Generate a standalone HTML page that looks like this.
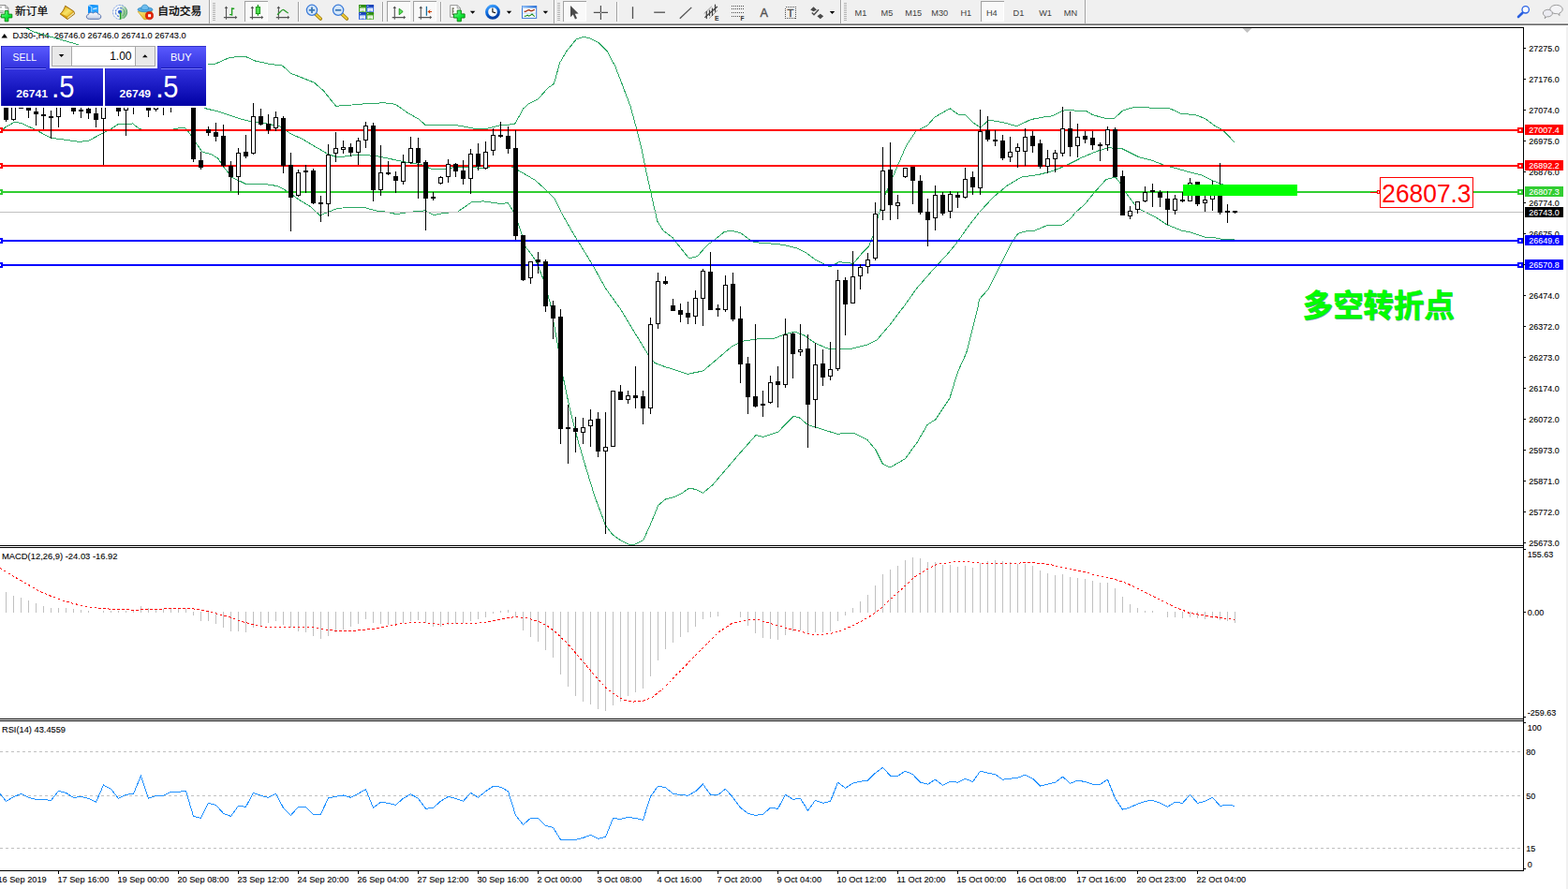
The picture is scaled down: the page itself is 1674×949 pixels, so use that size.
<!DOCTYPE html>
<html><head><meta charset="utf-8"><title>DJ30 H4</title>
<style>
html,body{margin:0;padding:0;background:#fff;}
body{width:1674px;height:949px;overflow:hidden;position:relative;font-family:"Liberation Sans",sans-serif;}
svg{position:absolute;left:0;top:0;display:block;}
svg text{font-family:"Liberation Sans","Noto Sans CJK SC",sans-serif;}
</style></head><body>
<svg width="1674" height="949" viewBox="0 0 1674 949">
<defs>
<linearGradient id="pg" x1="0" y1="49" x2="0" y2="113" gradientUnits="userSpaceOnUse"><stop offset="0" stop-color="#5a5aff"/><stop offset="0.45" stop-color="#2c2cd8"/><stop offset="1" stop-color="#0000a4"/></linearGradient>
<clipPath id="cm"><rect x="0" y="30" width="1626" height="552"/></clipPath>
<clipPath id="cmacd"><rect x="0" y="585" width="1626" height="182"/></clipPath>
<clipPath id="crsi"><rect x="0" y="770" width="1626" height="159"/></clipPath>
</defs>
<rect x="0" y="0" width="1674" height="949" fill="#fff"/>
<g clip-path="url(#cm)">
<polyline points="0,29 28,29.7 36,34 80,46.7 110,56 150,66 200,70 222.6,68.1 230.1,68.1 245.2,61.4 261.5,60.1 272.8,65.1 286.6,68.1 301.6,70.1 310.4,78.2 335.5,88.2 345.5,97 358.6,113.3 375.6,112 395.7,110.3 410.7,109.8 422,111.3 435.8,120.8 447.1,127.1 454.6,133.9 465.9,133.4 486,133.4 508.6,137.6 518.6,137.6 533.7,133.9 542.4,133.4 550,131.9 558.8,115.8 565.1,110.3 573.9,106.3 585.2,93.7 591.4,89.5 597.7,66.9 605.2,54.3 615.3,41.8 622.8,39.3 630.3,41 639.1,45.6 647.9,54.3 656.7,70.6 665.4,93.2 673,113.3 679.2,135.9 685.5,161 690.5,186 695.5,208.6 701.8,236.2 708.1,246.3 718.1,253.8 722.9,260 735.5,275.8 744.3,273.8 755.5,261.3 760.8,257.6 773.3,247.5 780.8,246.3 790.9,248.8 800.9,256.3 805.9,258.8 818.3,259.5 835.8,261.3 850.9,265 860.9,270.1 870.9,277.6 886,285.1 896,279.6 911.1,281.4 920,270.6 927.5,263.1 932.5,250.6 937.6,230.5 945.1,207.9 952.6,190.4 960.1,172.8 967.7,155.2 977.7,140.2 990.2,133.9 997.8,125.1 1014.1,115.8 1022.9,122.1 1030.4,122.6 1037.9,130.1 1046.7,136.4 1055.5,128.1 1070.5,130.6 1085.6,134.7 1100.6,127.6 1113.2,125.1 1123.2,123.9 1133.6,118.7 1138.2,117.4 1146.6,117.4 1147.9,118.5 1159.7,118.5 1166.4,122.5 1173.2,124.5 1180.9,126.4 1189.7,126.4 1198.5,118.1 1211,114.3 1228.6,115.1 1247.4,115.1 1261.2,121.4 1276.2,122.6 1286.3,126.4 1296.3,133.9 1306.3,139.7 1317.6,151.5" fill="none" stroke="#2aa763" stroke-width="1" shape-rendering="crispEdges"/>
<polyline points="217.6,115.3 235.1,119.6 257.7,127.1 270.2,130.4 285.3,132.1 300.4,135.4 310.4,142.9 322.9,148.4 335.5,156 350.5,164.7 360.6,168 375.6,166 390.7,165.5 405.7,167.2 420.8,170.5 435.8,173.5 450.9,176 460.9,180.5 471,181 486,178.5 501,178 516.1,179.8 531.2,176 542.4,176 546.2,178 556.2,183.5 571.3,192.3 583.8,203.6 591.4,211.1 600.2,228.7 612.5,250 632.6,282.6 646.4,307.7 662.7,330.3 677.8,355.4 691.6,377.9 699.1,387.5 710.4,391.7 722.9,395.5 734.2,399.3 750.5,396 763.1,385.5 780.6,370.4 793.2,364.1 810.7,361.6 825.8,361.6 838.3,356.6 848.4,354.1 858.4,357.9 870.9,366.7 886,372.9 908.6,372.4 926.1,367.9 936.2,362.9 951.2,345.3 966.3,325.3 978.8,307.7 996.4,287.6 1011.4,271.3 1020.4,260.6 1032.9,243 1045.4,226.7 1060.5,210.4 1075.5,197.9 1090.6,189.1 1108.2,186.6 1123.2,182.8 1138.3,176.6 1155.8,167.8 1170.9,161.5 1183.4,157.7 1198.5,159 1216,167.8 1228.6,170.8 1243.6,176.6 1253.7,179.1 1271.2,184.1 1283.8,187.3 1293.8,192.4 1302.5,196 1318,201" fill="none" stroke="#2aa763" stroke-width="1" shape-rendering="crispEdges"/>
<polyline points="0,142 5,136.3 15.2,130.4 22,131.2 37,138 54,147.2 67.5,149 84.3,151.4 94.4,150.3 108,143 118,138 126.5,132.4 141.7,132 148.4,137.1 155,139.2 185.5,139.2 185.6,137.4 197.3,136.3 202.4,142.2 209,152.3 215.9,162 226,165 232.7,169 239.5,179.3 247.9,189.4 262.2,196.3 282.8,196.6 296.6,198.6 307.9,204.9 317.9,212.4 330.5,219.9 341.7,230 350.5,226.2 360.6,222.4 375.6,221.2 388.2,221.2 400.7,224.9 413.2,226.2 423.3,228.7 438.3,226.2 453.4,224.9 463.4,229.5 473.5,227.5 488.5,226.2 503.6,215.7 516.1,214.9 533.7,217.4 542.4,216.7 550,228.7 553.7,240 561.3,263.8 567,271 572.8,279.9 580,298 587.3,323.4 594.6,363.3 600,397 607.5,432.6 616.3,467.7 625.1,497.8 635.1,530.5 646.4,560.6 653.9,570.6 662.7,576.9 671.5,581.1 677.8,581.1 686.6,576.9 694.1,560.6 702.9,539.2 710.4,533 720.4,530.5 727.9,526.7 735.5,521.2 743,522.4 750.5,526.2 760.6,517.9 775.6,500.4 790.7,482.8 807,464.5 814.5,466.5 830.8,461 847.1,444.4 853.4,445.9 862.2,453.4 876,457.7 893.5,463.2 911.1,462.2 926.1,469.7 934.9,480.3 942.4,495.3 950,499.1 966.3,489.8 978.8,472.8 990.1,453.4 998.9,447.7 1013.9,425.1 1022.6,396.7 1031.7,376.8 1037.9,352.3 1044.2,327.1 1045.4,319.6 1055.5,308.3 1068,283.2 1080.6,258.1 1086.8,249.3 1095.6,246.8 1103.1,246.8 1118.2,240.5 1134.5,240 1143.3,233 1148.3,226.7 1158.3,217.9 1168.4,205.4 1180.9,191.6 1190.9,189.1 1196,195.4 1203.5,207.9 1211,217.9 1218.5,224.2 1233.6,231.7 1246.1,240 1261.2,246 1271.2,248.1 1286.3,253.1 1293.8,253.1 1306.3,255.6 1317.6,255.6" fill="none" stroke="#2aa763" stroke-width="1" shape-rendering="crispEdges"/>
<g shape-rendering="crispEdges">
<rect x="0" y="138" width="1626" height="2" fill="#ff0000"/>
<rect x="0" y="176" width="1626" height="2" fill="#ff0000"/>
<rect x="0" y="204" width="1626" height="2" fill="#32cd32"/>
<rect x="0" y="226" width="1626" height="1" fill="#c0c0c0"/>
<rect x="0" y="256" width="1626" height="2" fill="#0000ff"/>
<rect x="0" y="282" width="1626" height="2" fill="#0000ff"/>
<rect x="-3" y="136" width="6" height="6" fill="#ff0000"/><rect x="-1" y="138" width="2" height="2" fill="#fff"/>
<rect x="1620" y="136" width="6" height="6" fill="#ff0000"/><rect x="1622" y="138" width="2" height="2" fill="#fff"/>
<rect x="-3" y="174" width="6" height="6" fill="#ff0000"/><rect x="-1" y="176" width="2" height="2" fill="#fff"/>
<rect x="1620" y="174" width="6" height="6" fill="#ff0000"/><rect x="1622" y="176" width="2" height="2" fill="#fff"/>
<rect x="-3" y="202" width="6" height="6" fill="#32cd32"/><rect x="-1" y="204" width="2" height="2" fill="#fff"/>
<rect x="1620" y="202" width="6" height="6" fill="#32cd32"/><rect x="1622" y="204" width="2" height="2" fill="#fff"/>
<rect x="-3" y="254" width="6" height="6" fill="#0000ff"/><rect x="-1" y="256" width="2" height="2" fill="#fff"/>
<rect x="1620" y="254" width="6" height="6" fill="#0000ff"/><rect x="1622" y="256" width="2" height="2" fill="#fff"/>
<rect x="-3" y="280" width="6" height="6" fill="#0000ff"/><rect x="-1" y="282" width="2" height="2" fill="#fff"/>
<rect x="1620" y="280" width="6" height="6" fill="#0000ff"/><rect x="1622" y="282" width="2" height="2" fill="#fff"/>
<rect x="6" y="100" width="1" height="30" fill="#000"/>
<rect x="4" y="100" width="5" height="28" fill="#000"/>
<rect x="14" y="100" width="1" height="29" fill="#000"/>
<rect x="12" y="100" width="5" height="28" fill="#000"/>
<rect x="13" y="101" width="3" height="26" fill="#fff"/>
<rect x="22" y="100" width="1" height="16" fill="#000"/>
<rect x="20" y="100" width="5" height="16" fill="#000"/>
<rect x="21" y="101" width="3" height="14" fill="#fff"/>
<rect x="30" y="100" width="1" height="26" fill="#000"/>
<rect x="28" y="100" width="5" height="18" fill="#000"/>
<rect x="38" y="100" width="1" height="34" fill="#000"/>
<rect x="36" y="119" width="5" height="3" fill="#000"/>
<rect x="46" y="100" width="1" height="38" fill="#000"/>
<rect x="44" y="122" width="5" height="2" fill="#000"/>
<rect x="54" y="118" width="1" height="30" fill="#000"/>
<rect x="52" y="124" width="5" height="2" fill="#000"/>
<rect x="62" y="100" width="1" height="36" fill="#000"/>
<rect x="60" y="100" width="5" height="25" fill="#000"/>
<rect x="61" y="101" width="3" height="23" fill="#fff"/>
<rect x="78" y="100" width="1" height="22" fill="#000"/>
<rect x="76" y="100" width="5" height="19" fill="#000"/>
<rect x="86" y="100" width="1" height="26" fill="#000"/>
<rect x="84" y="117" width="5" height="2" fill="#000"/>
<rect x="94" y="100" width="1" height="27" fill="#000"/>
<rect x="92" y="116" width="5" height="5" fill="#000"/>
<rect x="102" y="100" width="1" height="36" fill="#000"/>
<rect x="100" y="121" width="5" height="7" fill="#000"/>
<rect x="110" y="100" width="1" height="76" fill="#000"/>
<rect x="108" y="100" width="5" height="27" fill="#000"/>
<rect x="109" y="101" width="3" height="25" fill="#fff"/>
<rect x="126" y="100" width="1" height="24" fill="#000"/>
<rect x="124" y="100" width="5" height="19" fill="#000"/>
<rect x="134" y="100" width="1" height="45" fill="#000"/>
<rect x="132" y="100" width="5" height="18" fill="#000"/>
<rect x="133" y="101" width="3" height="16" fill="#fff"/>
<rect x="142" y="100" width="1" height="22" fill="#000"/>
<rect x="140" y="99" width="5" height="2" fill="#000"/>
<rect x="158" y="100" width="1" height="25" fill="#000"/>
<rect x="156" y="100" width="5" height="18" fill="#000"/>
<rect x="166" y="100" width="1" height="19" fill="#000"/>
<rect x="164" y="100" width="5" height="17" fill="#000"/>
<rect x="165" y="101" width="3" height="15" fill="#fff"/>
<rect x="174" y="100" width="1" height="23" fill="#000"/>
<rect x="172" y="99" width="5" height="2" fill="#000"/>
<rect x="182" y="100" width="1" height="20" fill="#000"/>
<rect x="180" y="99" width="5" height="2" fill="#000"/>
<rect x="206" y="100" width="1" height="73" fill="#000"/>
<rect x="204" y="100" width="5" height="70" fill="#000"/>
<rect x="214" y="162" width="1" height="19" fill="#000"/>
<rect x="212" y="171" width="5" height="8" fill="#000"/>
<rect x="222" y="135" width="1" height="10" fill="#000"/>
<rect x="220" y="138" width="5" height="4" fill="#000"/>
<rect x="230" y="131" width="1" height="20" fill="#000"/>
<rect x="228" y="141" width="5" height="5" fill="#000"/>
<rect x="238" y="133" width="1" height="45" fill="#000"/>
<rect x="236" y="145" width="5" height="32" fill="#000"/>
<rect x="246" y="172" width="1" height="32" fill="#000"/>
<rect x="244" y="177" width="5" height="12" fill="#000"/>
<rect x="254" y="158" width="1" height="50" fill="#000"/>
<rect x="252" y="163" width="5" height="26" fill="#000"/>
<rect x="253" y="164" width="3" height="24" fill="#fff"/>
<rect x="262" y="144" width="1" height="25" fill="#000"/>
<rect x="260" y="162" width="5" height="5" fill="#000"/>
<rect x="270" y="110" width="1" height="55" fill="#000"/>
<rect x="268" y="124" width="5" height="40" fill="#000"/>
<rect x="269" y="125" width="3" height="38" fill="#fff"/>
<rect x="278" y="116" width="1" height="18" fill="#000"/>
<rect x="276" y="124" width="5" height="9" fill="#000"/>
<rect x="286" y="122" width="1" height="21" fill="#000"/>
<rect x="284" y="132" width="5" height="7" fill="#000"/>
<rect x="294" y="119" width="1" height="21" fill="#000"/>
<rect x="292" y="125" width="5" height="12" fill="#000"/>
<rect x="293" y="126" width="3" height="10" fill="#fff"/>
<rect x="302" y="124" width="1" height="61" fill="#000"/>
<rect x="300" y="126" width="5" height="51" fill="#000"/>
<rect x="310" y="163" width="1" height="84" fill="#000"/>
<rect x="308" y="176" width="5" height="35" fill="#000"/>
<rect x="318" y="181" width="1" height="29" fill="#000"/>
<rect x="316" y="184" width="5" height="25" fill="#000"/>
<rect x="317" y="185" width="3" height="23" fill="#fff"/>
<rect x="326" y="176" width="1" height="30" fill="#000"/>
<rect x="324" y="182" width="5" height="2" fill="#000"/>
<rect x="334" y="180" width="1" height="38" fill="#000"/>
<rect x="332" y="182" width="5" height="35" fill="#000"/>
<rect x="342" y="209" width="1" height="28" fill="#000"/>
<rect x="340" y="216" width="5" height="2" fill="#000"/>
<rect x="350" y="154" width="1" height="77" fill="#000"/>
<rect x="348" y="165" width="5" height="53" fill="#000"/>
<rect x="349" y="166" width="3" height="51" fill="#fff"/>
<rect x="358" y="141" width="1" height="32" fill="#000"/>
<rect x="356" y="158" width="5" height="6" fill="#000"/>
<rect x="357" y="159" width="3" height="4" fill="#fff"/>
<rect x="366" y="150" width="1" height="14" fill="#000"/>
<rect x="364" y="157" width="5" height="3" fill="#000"/>
<rect x="365" y="158" width="3" height="1" fill="#fff"/>
<rect x="374" y="153" width="1" height="14" fill="#000"/>
<rect x="372" y="157" width="5" height="6" fill="#000"/>
<rect x="382" y="147" width="1" height="29" fill="#000"/>
<rect x="380" y="150" width="5" height="13" fill="#000"/>
<rect x="381" y="151" width="3" height="11" fill="#fff"/>
<rect x="390" y="130" width="1" height="28" fill="#000"/>
<rect x="388" y="134" width="5" height="16" fill="#000"/>
<rect x="389" y="135" width="3" height="14" fill="#fff"/>
<rect x="398" y="131" width="1" height="84" fill="#000"/>
<rect x="396" y="134" width="5" height="69" fill="#000"/>
<rect x="406" y="155" width="1" height="54" fill="#000"/>
<rect x="404" y="184" width="5" height="19" fill="#000"/>
<rect x="405" y="185" width="3" height="17" fill="#fff"/>
<rect x="414" y="172" width="1" height="15" fill="#000"/>
<rect x="412" y="184" width="5" height="2" fill="#000"/>
<rect x="422" y="183" width="1" height="23" fill="#000"/>
<rect x="420" y="188" width="5" height="5" fill="#000"/>
<rect x="430" y="165" width="1" height="32" fill="#000"/>
<rect x="428" y="173" width="5" height="21" fill="#000"/>
<rect x="429" y="174" width="3" height="19" fill="#fff"/>
<rect x="438" y="146" width="1" height="29" fill="#000"/>
<rect x="436" y="158" width="5" height="16" fill="#000"/>
<rect x="437" y="159" width="3" height="14" fill="#fff"/>
<rect x="446" y="147" width="1" height="65" fill="#000"/>
<rect x="444" y="158" width="5" height="16" fill="#000"/>
<rect x="454" y="171" width="1" height="75" fill="#000"/>
<rect x="452" y="173" width="5" height="39" fill="#000"/>
<rect x="462" y="205" width="1" height="9" fill="#000"/>
<rect x="460" y="210" width="5" height="2" fill="#000"/>
<rect x="470" y="188" width="1" height="9" fill="#000"/>
<rect x="468" y="189" width="5" height="7" fill="#000"/>
<rect x="469" y="190" width="3" height="5" fill="#fff"/>
<rect x="478" y="170" width="1" height="25" fill="#000"/>
<rect x="476" y="175" width="5" height="14" fill="#000"/>
<rect x="477" y="176" width="3" height="12" fill="#fff"/>
<rect x="486" y="174" width="1" height="15" fill="#000"/>
<rect x="484" y="175" width="5" height="8" fill="#000"/>
<rect x="494" y="171" width="1" height="26" fill="#000"/>
<rect x="492" y="182" width="5" height="9" fill="#000"/>
<rect x="502" y="159" width="1" height="48" fill="#000"/>
<rect x="500" y="164" width="5" height="27" fill="#000"/>
<rect x="501" y="165" width="3" height="25" fill="#fff"/>
<rect x="510" y="153" width="1" height="29" fill="#000"/>
<rect x="508" y="164" width="5" height="14" fill="#000"/>
<rect x="518" y="151" width="1" height="30" fill="#000"/>
<rect x="516" y="162" width="5" height="18" fill="#000"/>
<rect x="517" y="163" width="3" height="16" fill="#fff"/>
<rect x="526" y="137" width="1" height="29" fill="#000"/>
<rect x="524" y="144" width="5" height="17" fill="#000"/>
<rect x="525" y="145" width="3" height="15" fill="#fff"/>
<rect x="534" y="130" width="1" height="17" fill="#000"/>
<rect x="532" y="144" width="5" height="2" fill="#000"/>
<rect x="542" y="135" width="1" height="29" fill="#000"/>
<rect x="540" y="145" width="5" height="14" fill="#000"/>
<rect x="550" y="139" width="1" height="117" fill="#000"/>
<rect x="548" y="158" width="5" height="94" fill="#000"/>
<rect x="558" y="251" width="1" height="49" fill="#000"/>
<rect x="556" y="251" width="5" height="48" fill="#000"/>
<rect x="566" y="279" width="1" height="24" fill="#000"/>
<rect x="564" y="279" width="5" height="18" fill="#000"/>
<rect x="565" y="280" width="3" height="16" fill="#fff"/>
<rect x="574" y="269" width="1" height="23" fill="#000"/>
<rect x="572" y="277" width="5" height="3" fill="#000"/>
<rect x="582" y="277" width="1" height="56" fill="#000"/>
<rect x="580" y="279" width="5" height="48" fill="#000"/>
<rect x="590" y="321" width="1" height="41" fill="#000"/>
<rect x="588" y="326" width="5" height="14" fill="#000"/>
<rect x="598" y="330" width="1" height="144" fill="#000"/>
<rect x="596" y="338" width="5" height="120" fill="#000"/>
<rect x="606" y="432" width="1" height="63" fill="#000"/>
<rect x="604" y="456" width="5" height="2" fill="#000"/>
<rect x="614" y="445" width="1" height="38" fill="#000"/>
<rect x="612" y="457" width="5" height="4" fill="#000"/>
<rect x="622" y="446" width="1" height="28" fill="#000"/>
<rect x="620" y="456" width="5" height="6" fill="#000"/>
<rect x="621" y="457" width="3" height="4" fill="#fff"/>
<rect x="630" y="437" width="1" height="40" fill="#000"/>
<rect x="628" y="448" width="5" height="7" fill="#000"/>
<rect x="629" y="449" width="3" height="5" fill="#fff"/>
<rect x="638" y="440" width="1" height="48" fill="#000"/>
<rect x="636" y="447" width="5" height="35" fill="#000"/>
<rect x="646" y="440" width="1" height="130" fill="#000"/>
<rect x="644" y="477" width="5" height="5" fill="#000"/>
<rect x="645" y="478" width="3" height="3" fill="#fff"/>
<rect x="654" y="417" width="1" height="60" fill="#000"/>
<rect x="652" y="417" width="5" height="60" fill="#000"/>
<rect x="653" y="418" width="3" height="58" fill="#fff"/>
<rect x="662" y="411" width="1" height="16" fill="#000"/>
<rect x="660" y="418" width="5" height="9" fill="#000"/>
<rect x="670" y="417" width="1" height="14" fill="#000"/>
<rect x="668" y="422" width="5" height="5" fill="#000"/>
<rect x="669" y="423" width="3" height="3" fill="#fff"/>
<rect x="678" y="391" width="1" height="45" fill="#000"/>
<rect x="676" y="422" width="5" height="3" fill="#000"/>
<rect x="686" y="417" width="1" height="36" fill="#000"/>
<rect x="684" y="423" width="5" height="13" fill="#000"/>
<rect x="694" y="339" width="1" height="103" fill="#000"/>
<rect x="692" y="346" width="5" height="90" fill="#000"/>
<rect x="693" y="347" width="3" height="88" fill="#fff"/>
<rect x="702" y="291" width="1" height="60" fill="#000"/>
<rect x="700" y="300" width="5" height="46" fill="#000"/>
<rect x="701" y="301" width="3" height="44" fill="#fff"/>
<rect x="710" y="295" width="1" height="9" fill="#000"/>
<rect x="708" y="300" width="5" height="3" fill="#000"/>
<rect x="718" y="319" width="1" height="13" fill="#000"/>
<rect x="716" y="326" width="5" height="6" fill="#000"/>
<rect x="726" y="324" width="1" height="20" fill="#000"/>
<rect x="724" y="331" width="5" height="5" fill="#000"/>
<rect x="734" y="322" width="1" height="24" fill="#000"/>
<rect x="732" y="334" width="5" height="5" fill="#000"/>
<rect x="742" y="310" width="1" height="36" fill="#000"/>
<rect x="740" y="318" width="5" height="20" fill="#000"/>
<rect x="741" y="319" width="3" height="18" fill="#fff"/>
<rect x="750" y="287" width="1" height="61" fill="#000"/>
<rect x="748" y="289" width="5" height="30" fill="#000"/>
<rect x="749" y="290" width="3" height="28" fill="#fff"/>
<rect x="758" y="269" width="1" height="62" fill="#000"/>
<rect x="756" y="290" width="5" height="41" fill="#000"/>
<rect x="766" y="325" width="1" height="13" fill="#000"/>
<rect x="764" y="329" width="5" height="2" fill="#000"/>
<rect x="774" y="294" width="1" height="39" fill="#000"/>
<rect x="772" y="304" width="5" height="27" fill="#000"/>
<rect x="773" y="305" width="3" height="25" fill="#fff"/>
<rect x="782" y="291" width="1" height="52" fill="#000"/>
<rect x="780" y="303" width="5" height="38" fill="#000"/>
<rect x="790" y="327" width="1" height="82" fill="#000"/>
<rect x="788" y="340" width="5" height="49" fill="#000"/>
<rect x="798" y="381" width="1" height="61" fill="#000"/>
<rect x="796" y="388" width="5" height="36" fill="#000"/>
<rect x="806" y="346" width="1" height="89" fill="#000"/>
<rect x="804" y="423" width="5" height="11" fill="#000"/>
<rect x="814" y="417" width="1" height="28" fill="#000"/>
<rect x="812" y="431" width="5" height="2" fill="#000"/>
<rect x="822" y="401" width="1" height="30" fill="#000"/>
<rect x="820" y="408" width="5" height="22" fill="#000"/>
<rect x="821" y="409" width="3" height="20" fill="#fff"/>
<rect x="830" y="391" width="1" height="44" fill="#000"/>
<rect x="828" y="407" width="5" height="4" fill="#000"/>
<rect x="838" y="340" width="1" height="74" fill="#000"/>
<rect x="836" y="357" width="5" height="54" fill="#000"/>
<rect x="837" y="358" width="3" height="52" fill="#fff"/>
<rect x="846" y="355" width="1" height="49" fill="#000"/>
<rect x="844" y="356" width="5" height="22" fill="#000"/>
<rect x="854" y="346" width="1" height="34" fill="#000"/>
<rect x="852" y="373" width="5" height="3" fill="#000"/>
<rect x="853" y="374" width="3" height="1" fill="#fff"/>
<rect x="862" y="357" width="1" height="121" fill="#000"/>
<rect x="860" y="372" width="5" height="60" fill="#000"/>
<rect x="870" y="366" width="1" height="91" fill="#000"/>
<rect x="868" y="389" width="5" height="38" fill="#000"/>
<rect x="869" y="390" width="3" height="36" fill="#fff"/>
<rect x="878" y="373" width="1" height="39" fill="#000"/>
<rect x="876" y="388" width="5" height="15" fill="#000"/>
<rect x="886" y="365" width="1" height="41" fill="#000"/>
<rect x="884" y="394" width="5" height="8" fill="#000"/>
<rect x="885" y="395" width="3" height="6" fill="#fff"/>
<rect x="894" y="288" width="1" height="108" fill="#000"/>
<rect x="892" y="299" width="5" height="95" fill="#000"/>
<rect x="893" y="300" width="3" height="93" fill="#fff"/>
<rect x="902" y="296" width="1" height="62" fill="#000"/>
<rect x="900" y="299" width="5" height="26" fill="#000"/>
<rect x="910" y="268" width="1" height="56" fill="#000"/>
<rect x="908" y="295" width="5" height="29" fill="#000"/>
<rect x="909" y="296" width="3" height="27" fill="#fff"/>
<rect x="918" y="282" width="1" height="27" fill="#000"/>
<rect x="916" y="285" width="5" height="10" fill="#000"/>
<rect x="917" y="286" width="3" height="8" fill="#fff"/>
<rect x="926" y="270" width="1" height="22" fill="#000"/>
<rect x="924" y="277" width="5" height="8" fill="#000"/>
<rect x="925" y="278" width="3" height="6" fill="#fff"/>
<rect x="934" y="216" width="1" height="62" fill="#000"/>
<rect x="932" y="228" width="5" height="48" fill="#000"/>
<rect x="933" y="229" width="3" height="46" fill="#fff"/>
<rect x="942" y="157" width="1" height="78" fill="#000"/>
<rect x="940" y="182" width="5" height="43" fill="#000"/>
<rect x="941" y="183" width="3" height="41" fill="#fff"/>
<rect x="950" y="152" width="1" height="83" fill="#000"/>
<rect x="948" y="181" width="5" height="38" fill="#000"/>
<rect x="958" y="208" width="1" height="26" fill="#000"/>
<rect x="956" y="216" width="5" height="4" fill="#000"/>
<rect x="957" y="217" width="3" height="2" fill="#fff"/>
<rect x="966" y="179" width="1" height="11" fill="#000"/>
<rect x="964" y="179" width="5" height="10" fill="#000"/>
<rect x="965" y="180" width="3" height="8" fill="#fff"/>
<rect x="974" y="178" width="1" height="40" fill="#000"/>
<rect x="972" y="178" width="5" height="15" fill="#000"/>
<rect x="982" y="187" width="1" height="42" fill="#000"/>
<rect x="980" y="193" width="5" height="34" fill="#000"/>
<rect x="990" y="212" width="1" height="51" fill="#000"/>
<rect x="988" y="226" width="5" height="9" fill="#000"/>
<rect x="998" y="198" width="1" height="48" fill="#000"/>
<rect x="996" y="208" width="5" height="25" fill="#000"/>
<rect x="997" y="209" width="3" height="23" fill="#fff"/>
<rect x="1006" y="205" width="1" height="25" fill="#000"/>
<rect x="1004" y="208" width="5" height="20" fill="#000"/>
<rect x="1014" y="204" width="1" height="29" fill="#000"/>
<rect x="1012" y="207" width="5" height="19" fill="#000"/>
<rect x="1013" y="208" width="3" height="17" fill="#fff"/>
<rect x="1022" y="205" width="1" height="17" fill="#000"/>
<rect x="1020" y="208" width="5" height="3" fill="#000"/>
<rect x="1030" y="179" width="1" height="33" fill="#000"/>
<rect x="1028" y="191" width="5" height="20" fill="#000"/>
<rect x="1029" y="192" width="3" height="18" fill="#fff"/>
<rect x="1038" y="183" width="1" height="25" fill="#000"/>
<rect x="1036" y="189" width="5" height="11" fill="#000"/>
<rect x="1046" y="117" width="1" height="91" fill="#000"/>
<rect x="1044" y="140" width="5" height="61" fill="#000"/>
<rect x="1045" y="141" width="3" height="59" fill="#fff"/>
<rect x="1054" y="124" width="1" height="27" fill="#000"/>
<rect x="1052" y="139" width="5" height="10" fill="#000"/>
<rect x="1062" y="139" width="1" height="17" fill="#000"/>
<rect x="1060" y="149" width="5" height="2" fill="#000"/>
<rect x="1070" y="144" width="1" height="27" fill="#000"/>
<rect x="1068" y="150" width="5" height="19" fill="#000"/>
<rect x="1078" y="146" width="1" height="27" fill="#000"/>
<rect x="1076" y="162" width="5" height="6" fill="#000"/>
<rect x="1077" y="163" width="3" height="4" fill="#fff"/>
<rect x="1086" y="153" width="1" height="26" fill="#000"/>
<rect x="1084" y="157" width="5" height="5" fill="#000"/>
<rect x="1085" y="158" width="3" height="3" fill="#fff"/>
<rect x="1094" y="137" width="1" height="40" fill="#000"/>
<rect x="1092" y="146" width="5" height="16" fill="#000"/>
<rect x="1093" y="147" width="3" height="14" fill="#fff"/>
<rect x="1102" y="140" width="1" height="23" fill="#000"/>
<rect x="1100" y="145" width="5" height="11" fill="#000"/>
<rect x="1110" y="149" width="1" height="31" fill="#000"/>
<rect x="1108" y="153" width="5" height="25" fill="#000"/>
<rect x="1118" y="160" width="1" height="25" fill="#000"/>
<rect x="1116" y="169" width="5" height="9" fill="#000"/>
<rect x="1117" y="170" width="3" height="7" fill="#fff"/>
<rect x="1126" y="160" width="1" height="24" fill="#000"/>
<rect x="1124" y="163" width="5" height="7" fill="#000"/>
<rect x="1125" y="164" width="3" height="5" fill="#fff"/>
<rect x="1134" y="114" width="1" height="53" fill="#000"/>
<rect x="1132" y="137" width="5" height="27" fill="#000"/>
<rect x="1133" y="138" width="3" height="25" fill="#fff"/>
<rect x="1142" y="119" width="1" height="48" fill="#000"/>
<rect x="1140" y="137" width="5" height="20" fill="#000"/>
<rect x="1150" y="132" width="1" height="36" fill="#000"/>
<rect x="1148" y="146" width="5" height="10" fill="#000"/>
<rect x="1149" y="147" width="3" height="8" fill="#fff"/>
<rect x="1158" y="140" width="1" height="13" fill="#000"/>
<rect x="1156" y="145" width="5" height="4" fill="#000"/>
<rect x="1166" y="140" width="1" height="20" fill="#000"/>
<rect x="1164" y="147" width="5" height="8" fill="#000"/>
<rect x="1174" y="152" width="1" height="20" fill="#000"/>
<rect x="1172" y="154" width="5" height="2" fill="#000"/>
<rect x="1182" y="135" width="1" height="26" fill="#000"/>
<rect x="1180" y="138" width="5" height="17" fill="#000"/>
<rect x="1181" y="139" width="3" height="15" fill="#fff"/>
<rect x="1190" y="136" width="1" height="53" fill="#000"/>
<rect x="1188" y="138" width="5" height="51" fill="#000"/>
<rect x="1198" y="182" width="1" height="48" fill="#000"/>
<rect x="1196" y="188" width="5" height="42" fill="#000"/>
<rect x="1206" y="220" width="1" height="14" fill="#000"/>
<rect x="1204" y="225" width="5" height="6" fill="#000"/>
<rect x="1205" y="226" width="3" height="4" fill="#fff"/>
<rect x="1214" y="215" width="1" height="13" fill="#000"/>
<rect x="1212" y="215" width="5" height="9" fill="#000"/>
<rect x="1213" y="216" width="3" height="7" fill="#fff"/>
<rect x="1222" y="199" width="1" height="17" fill="#000"/>
<rect x="1220" y="205" width="5" height="10" fill="#000"/>
<rect x="1221" y="206" width="3" height="8" fill="#fff"/>
<rect x="1230" y="196" width="1" height="25" fill="#000"/>
<rect x="1228" y="203" width="5" height="2" fill="#000"/>
<rect x="1238" y="203" width="1" height="18" fill="#000"/>
<rect x="1236" y="205" width="5" height="6" fill="#000"/>
<rect x="1246" y="204" width="1" height="36" fill="#000"/>
<rect x="1244" y="212" width="5" height="12" fill="#000"/>
<rect x="1254" y="208" width="1" height="21" fill="#000"/>
<rect x="1252" y="212" width="5" height="13" fill="#000"/>
<rect x="1253" y="213" width="3" height="11" fill="#fff"/>
<rect x="1262" y="205" width="1" height="11" fill="#000"/>
<rect x="1260" y="213" width="5" height="2" fill="#000"/>
<rect x="1270" y="190" width="1" height="25" fill="#000"/>
<rect x="1268" y="195" width="5" height="20" fill="#000"/>
<rect x="1269" y="196" width="3" height="18" fill="#fff"/>
<rect x="1278" y="194" width="1" height="26" fill="#000"/>
<rect x="1276" y="194" width="5" height="24" fill="#000"/>
<rect x="1286" y="203" width="1" height="23" fill="#000"/>
<rect x="1284" y="213" width="5" height="4" fill="#000"/>
<rect x="1285" y="214" width="3" height="2" fill="#fff"/>
<rect x="1294" y="193" width="1" height="32" fill="#000"/>
<rect x="1292" y="202" width="5" height="11" fill="#000"/>
<rect x="1293" y="203" width="3" height="9" fill="#fff"/>
<rect x="1302" y="174" width="1" height="55" fill="#000"/>
<rect x="1300" y="200" width="5" height="27" fill="#000"/>
<rect x="1310" y="218" width="1" height="20" fill="#000"/>
<rect x="1308" y="225" width="5" height="2" fill="#000"/>
<rect x="1318" y="225" width="1" height="3" fill="#000"/>
<rect x="1316" y="225" width="5" height="2" fill="#000"/>
<rect x="1263" y="197" width="122" height="12" fill="#00ff00"/>
<rect x="1463" y="205" width="8" height="1" fill="#ff0000"/>
<rect x="1470" y="203" width="3" height="4" fill="#ff0000"/><rect x="1471" y="204" width="1" height="2" fill="#fff"/>
<rect x="1473" y="189" width="100" height="33" fill="#ff0000"/><rect x="1474" y="190" width="98" height="31" fill="#fff"/>
</g>
<text x="1475.3" y="216" font-size="27.6" fill="#ff0000" text-anchor="start" font-weight="normal" textLength="95.2" lengthAdjust="spacingAndGlyphs">26807.3</text>
<text x="1391.5" y="338.9" font-size="32.7" fill="#002060" opacity="0.5" font-weight="bold" textLength="162" lengthAdjust="spacingAndGlyphs" style="font-family:'Liberation Sans','Noto Sans CJK SC',sans-serif">多空转折点</text>
<text x="1390.8" y="338.4" font-size="32.7" fill="#00ff00" stroke="#00f000" stroke-width="0.7" stroke-linejoin="round" font-weight="bold" textLength="162" lengthAdjust="spacingAndGlyphs" style="font-family:'Liberation Sans','Noto Sans CJK SC',sans-serif">多空转折点</text>
</g>
<g shape-rendering="crispEdges">
<rect x="0" y="48" width="222" height="67" fill="#fff"/>
</g>
<path d="M1.5 40.5 L8 40.5 L4.75 36 Z" fill="#000"/>
<text x="13.6" y="40.6" font-size="9.5" fill="#000" text-anchor="start" font-weight="normal" textLength="185" lengthAdjust="spacingAndGlyphs" stroke="#000" stroke-width="0.1">DJ30-,H4&#160;&#160;26746.0 26746.0 26741.0 26743.0</text>
<polyline points="28,29.7 36,34 80,46.7" fill="none" stroke="#2aa763" stroke-width="1" shape-rendering="crispEdges"/>
<g shape-rendering="crispEdges">
<rect x="1" y="49" width="52" height="25" fill="url(#pg)"/>
<rect x="1" y="73" width="109" height="40" fill="url(#pg)"/>
<rect x="168" y="49" width="52" height="25" fill="url(#pg)"/>
<rect x="112" y="73" width="108" height="40" fill="url(#pg)"/>
<rect x="1" y="49" width="52" height="1" fill="#3030c8"/><rect x="1" y="49" width="1" height="64" fill="#2020b8"/>
<rect x="168" y="49" width="52" height="1" fill="#3030c8"/><rect x="112" y="73" width="1" height="40" fill="#2020b8"/>
<rect x="5" y="72" width="44" height="1" fill="#1c1cb4"/><rect x="5" y="73" width="44" height="1" fill="#7878ff"/>
<rect x="172" y="72" width="44" height="1" fill="#1c1cb4"/><rect x="172" y="73" width="44" height="1" fill="#7878ff"/>
<rect x="55" y="49" width="111" height="22" fill="#a8a8a8"/>
<rect x="56" y="50" width="20" height="20" fill="#e9e9e9"/>
<rect x="77" y="50" width="67" height="20" fill="#fff"/>
<rect x="145" y="50" width="20" height="20" fill="#e9e9e9"/>
</g>
<path d="M62.8 58 L68.4 58 L65.6 61 Z" fill="#000"/>
<path d="M152 61.2 L157.6 61.2 L154.8 58.2 Z" fill="#000"/>
<text x="140.5" y="64.3" font-size="12" fill="#000" text-anchor="end" font-weight="normal">1.00</text>
<text x="26.4" y="65" font-size="11.6" fill="#fff" text-anchor="middle" font-weight="normal" textLength="25.6" lengthAdjust="spacingAndGlyphs">SELL</text>
<text x="193.3" y="65" font-size="11.6" fill="#fff" text-anchor="middle" font-weight="normal" textLength="22.6" lengthAdjust="spacingAndGlyphs">BUY</text>
<text x="17.3" y="104" font-size="11.6" fill="#fff" text-anchor="start" font-weight="bold" textLength="33.6" lengthAdjust="spacingAndGlyphs">26741</text>
<text x="127.5" y="104" font-size="11.6" fill="#fff" text-anchor="start" font-weight="bold" textLength="33.6" lengthAdjust="spacingAndGlyphs">26749</text>
<text x="54.8" y="104.2" font-size="32" fill="#fff" text-anchor="start" font-weight="normal">.</text>
<text x="63.2" y="104.3" font-size="33.2" fill="#fff" text-anchor="start" font-weight="normal" textLength="16.2" lengthAdjust="spacingAndGlyphs">5</text>
<text x="165.9" y="104.2" font-size="32" fill="#fff" text-anchor="start" font-weight="normal">.</text>
<text x="174.3" y="104.3" font-size="33.2" fill="#fff" text-anchor="start" font-weight="normal" textLength="16.2" lengthAdjust="spacingAndGlyphs">5</text>
<g shape-rendering="crispEdges">
<rect x="0" y="29" width="1627" height="1" fill="#000"/>
<rect x="1626" y="29" width="1" height="901" fill="#000"/>
<rect x="0" y="582" width="1627" height="1" fill="#000"/>
<rect x="0" y="584" width="1627" height="1" fill="#000"/>
<rect x="0" y="767" width="1627" height="1" fill="#000"/>
<rect x="0" y="769" width="1627" height="1" fill="#000"/>
<rect x="0" y="929" width="1627" height="1" fill="#000"/>
<rect x="1672" y="27" width="2" height="922" fill="#f0f0f0"/>
</g>
<path d="M1326.5 30 L1336.5 30 L1331.5 35 Z" fill="#c0c0c0"/>
<g shape-rendering="crispEdges">
<rect x="1627" y="51" width="2" height="1" fill="#000"/>
<rect x="1627" y="84" width="2" height="1" fill="#000"/>
<rect x="1627" y="117" width="2" height="1" fill="#000"/>
<rect x="1627" y="150" width="2" height="1" fill="#000"/>
<rect x="1627" y="183" width="2" height="1" fill="#000"/>
<rect x="1627" y="216" width="2" height="1" fill="#000"/>
<rect x="1627" y="249" width="2" height="1" fill="#000"/>
<rect x="1627" y="282" width="2" height="1" fill="#000"/>
<rect x="1627" y="315" width="2" height="1" fill="#000"/>
<rect x="1627" y="348" width="2" height="1" fill="#000"/>
<rect x="1627" y="381" width="2" height="1" fill="#000"/>
<rect x="1627" y="414" width="2" height="1" fill="#000"/>
<rect x="1627" y="447" width="2" height="1" fill="#000"/>
<rect x="1627" y="480" width="2" height="1" fill="#000"/>
<rect x="1627" y="513" width="2" height="1" fill="#000"/>
<rect x="1627" y="546" width="2" height="1" fill="#000"/>
<rect x="1627" y="579" width="2" height="1" fill="#000"/>
</g>
<text x="1632.3" y="54.7" font-size="9.5" fill="#000" text-anchor="start" font-weight="normal" textLength="32.4" lengthAdjust="spacingAndGlyphs" stroke="#000" stroke-width="0.1">27275.0</text>
<text x="1632.3" y="87.7" font-size="9.5" fill="#000" text-anchor="start" font-weight="normal" textLength="32.4" lengthAdjust="spacingAndGlyphs" stroke="#000" stroke-width="0.1">27176.0</text>
<text x="1632.3" y="120.7" font-size="9.5" fill="#000" text-anchor="start" font-weight="normal" textLength="32.4" lengthAdjust="spacingAndGlyphs" stroke="#000" stroke-width="0.1">27074.0</text>
<text x="1632.3" y="153.7" font-size="9.5" fill="#000" text-anchor="start" font-weight="normal" textLength="32.4" lengthAdjust="spacingAndGlyphs" stroke="#000" stroke-width="0.1">26975.0</text>
<text x="1632.3" y="186.7" font-size="9.5" fill="#000" text-anchor="start" font-weight="normal" textLength="32.4" lengthAdjust="spacingAndGlyphs" stroke="#000" stroke-width="0.1">26876.0</text>
<text x="1632.3" y="219.7" font-size="9.5" fill="#000" text-anchor="start" font-weight="normal" textLength="32.4" lengthAdjust="spacingAndGlyphs" stroke="#000" stroke-width="0.1">26774.0</text>
<text x="1632.3" y="252.7" font-size="9.5" fill="#000" text-anchor="start" font-weight="normal" textLength="32.4" lengthAdjust="spacingAndGlyphs" stroke="#000" stroke-width="0.1">26675.0</text>
<text x="1632.3" y="285.7" font-size="9.5" fill="#000" text-anchor="start" font-weight="normal" textLength="32.4" lengthAdjust="spacingAndGlyphs" stroke="#000" stroke-width="0.1">26573.0</text>
<text x="1632.3" y="318.7" font-size="9.5" fill="#000" text-anchor="start" font-weight="normal" textLength="32.4" lengthAdjust="spacingAndGlyphs" stroke="#000" stroke-width="0.1">26474.0</text>
<text x="1632.3" y="351.7" font-size="9.5" fill="#000" text-anchor="start" font-weight="normal" textLength="32.4" lengthAdjust="spacingAndGlyphs" stroke="#000" stroke-width="0.1">26372.0</text>
<text x="1632.3" y="384.7" font-size="9.5" fill="#000" text-anchor="start" font-weight="normal" textLength="32.4" lengthAdjust="spacingAndGlyphs" stroke="#000" stroke-width="0.1">26273.0</text>
<text x="1632.3" y="417.7" font-size="9.5" fill="#000" text-anchor="start" font-weight="normal" textLength="32.4" lengthAdjust="spacingAndGlyphs" stroke="#000" stroke-width="0.1">26174.0</text>
<text x="1632.3" y="450.7" font-size="9.5" fill="#000" text-anchor="start" font-weight="normal" textLength="32.4" lengthAdjust="spacingAndGlyphs" stroke="#000" stroke-width="0.1">26072.0</text>
<text x="1632.3" y="483.7" font-size="9.5" fill="#000" text-anchor="start" font-weight="normal" textLength="32.4" lengthAdjust="spacingAndGlyphs" stroke="#000" stroke-width="0.1">25973.0</text>
<text x="1632.3" y="516.7" font-size="9.5" fill="#000" text-anchor="start" font-weight="normal" textLength="32.4" lengthAdjust="spacingAndGlyphs" stroke="#000" stroke-width="0.1">25871.0</text>
<text x="1632.3" y="549.7" font-size="9.5" fill="#000" text-anchor="start" font-weight="normal" textLength="32.4" lengthAdjust="spacingAndGlyphs" stroke="#000" stroke-width="0.1">25772.0</text>
<text x="1632.3" y="582.7" font-size="9.5" fill="#000" text-anchor="start" font-weight="normal" textLength="32.4" lengthAdjust="spacingAndGlyphs" stroke="#000" stroke-width="0.1">25673.0</text>
<g shape-rendering="crispEdges">
<rect x="1628" y="133" width="41" height="11" fill="#ff0000"/>
<rect x="1628" y="171" width="41" height="11" fill="#ff0000"/>
<rect x="1628" y="199" width="41" height="11" fill="#32cd32"/>
<rect x="1628" y="221" width="41" height="11" fill="#000000"/>
<rect x="1628" y="251" width="41" height="11" fill="#0000ff"/>
<rect x="1628" y="277" width="41" height="11" fill="#0000ff"/>
</g>
<text x="1632.3" y="142.2" font-size="9.5" fill="#fff" text-anchor="start" font-weight="normal" textLength="32.4" lengthAdjust="spacingAndGlyphs" stroke="#fff" stroke-width="0.1">27007.4</text>
<text x="1632.3" y="180.2" font-size="9.5" fill="#fff" text-anchor="start" font-weight="normal" textLength="32.4" lengthAdjust="spacingAndGlyphs" stroke="#fff" stroke-width="0.1">26892.2</text>
<text x="1632.3" y="208.2" font-size="9.5" fill="#fff" text-anchor="start" font-weight="normal" textLength="32.4" lengthAdjust="spacingAndGlyphs" stroke="#fff" stroke-width="0.1">26807.3</text>
<text x="1632.3" y="230.2" font-size="9.5" fill="#fff" text-anchor="start" font-weight="normal" textLength="32.4" lengthAdjust="spacingAndGlyphs" stroke="#fff" stroke-width="0.1">26743.0</text>
<text x="1632.3" y="260.2" font-size="9.5" fill="#fff" text-anchor="start" font-weight="normal" textLength="32.4" lengthAdjust="spacingAndGlyphs" stroke="#fff" stroke-width="0.1">26649.6</text>
<text x="1632.3" y="286.2" font-size="9.5" fill="#fff" text-anchor="start" font-weight="normal" textLength="32.4" lengthAdjust="spacingAndGlyphs" stroke="#fff" stroke-width="0.1">26570.8</text>
<g clip-path="url(#cmacd)">
<g shape-rendering="crispEdges">
<rect x="6" y="632" width="1" height="22" fill="#c0c0c0"/>
<rect x="14" y="636" width="1" height="18" fill="#c0c0c0"/>
<rect x="22" y="638" width="1" height="16" fill="#c0c0c0"/>
<rect x="30" y="641" width="1" height="13" fill="#c0c0c0"/>
<rect x="38" y="644" width="1" height="10" fill="#c0c0c0"/>
<rect x="46" y="647" width="1" height="7" fill="#c0c0c0"/>
<rect x="54" y="649" width="1" height="5" fill="#c0c0c0"/>
<rect x="62" y="649" width="1" height="5" fill="#c0c0c0"/>
<rect x="70" y="649" width="1" height="5" fill="#c0c0c0"/>
<rect x="78" y="650" width="1" height="4" fill="#c0c0c0"/>
<rect x="86" y="651" width="1" height="3" fill="#c0c0c0"/>
<rect x="94" y="652" width="1" height="2" fill="#c0c0c0"/>
<rect x="110" y="652" width="1" height="2" fill="#c0c0c0"/>
<rect x="118" y="652" width="1" height="2" fill="#c0c0c0"/>
<rect x="126" y="652" width="1" height="2" fill="#c0c0c0"/>
<rect x="134" y="652" width="1" height="2" fill="#c0c0c0"/>
<rect x="142" y="651" width="1" height="3" fill="#c0c0c0"/>
<rect x="150" y="647" width="1" height="7" fill="#c0c0c0"/>
<rect x="158" y="649" width="1" height="5" fill="#c0c0c0"/>
<rect x="166" y="650" width="1" height="4" fill="#c0c0c0"/>
<rect x="174" y="650" width="1" height="4" fill="#c0c0c0"/>
<rect x="182" y="650" width="1" height="4" fill="#c0c0c0"/>
<rect x="190" y="650" width="1" height="4" fill="#c0c0c0"/>
<rect x="198" y="650" width="1" height="4" fill="#c0c0c0"/>
<rect x="206" y="653" width="1" height="4" fill="#c0c0c0"/>
<rect x="214" y="653" width="1" height="10" fill="#c0c0c0"/>
<rect x="222" y="653" width="1" height="10" fill="#c0c0c0"/>
<rect x="230" y="653" width="1" height="13" fill="#c0c0c0"/>
<rect x="238" y="653" width="1" height="17" fill="#c0c0c0"/>
<rect x="246" y="653" width="1" height="21" fill="#c0c0c0"/>
<rect x="254" y="653" width="1" height="21" fill="#c0c0c0"/>
<rect x="262" y="653" width="1" height="22" fill="#c0c0c0"/>
<rect x="270" y="653" width="1" height="17" fill="#c0c0c0"/>
<rect x="278" y="653" width="1" height="15" fill="#c0c0c0"/>
<rect x="286" y="653" width="1" height="12" fill="#c0c0c0"/>
<rect x="294" y="653" width="1" height="10" fill="#c0c0c0"/>
<rect x="302" y="653" width="1" height="14" fill="#c0c0c0"/>
<rect x="310" y="653" width="1" height="17" fill="#c0c0c0"/>
<rect x="318" y="653" width="1" height="21" fill="#c0c0c0"/>
<rect x="326" y="653" width="1" height="22" fill="#c0c0c0"/>
<rect x="334" y="653" width="1" height="26" fill="#c0c0c0"/>
<rect x="342" y="653" width="1" height="29" fill="#c0c0c0"/>
<rect x="350" y="653" width="1" height="26" fill="#c0c0c0"/>
<rect x="358" y="653" width="1" height="22" fill="#c0c0c0"/>
<rect x="366" y="653" width="1" height="19" fill="#c0c0c0"/>
<rect x="374" y="653" width="1" height="16" fill="#c0c0c0"/>
<rect x="382" y="653" width="1" height="13" fill="#c0c0c0"/>
<rect x="390" y="653" width="1" height="8" fill="#c0c0c0"/>
<rect x="398" y="653" width="1" height="12" fill="#c0c0c0"/>
<rect x="406" y="653" width="1" height="13" fill="#c0c0c0"/>
<rect x="414" y="653" width="1" height="14" fill="#c0c0c0"/>
<rect x="422" y="653" width="1" height="14" fill="#c0c0c0"/>
<rect x="430" y="653" width="1" height="12" fill="#c0c0c0"/>
<rect x="438" y="653" width="1" height="10" fill="#c0c0c0"/>
<rect x="446" y="653" width="1" height="9" fill="#c0c0c0"/>
<rect x="454" y="653" width="1" height="12" fill="#c0c0c0"/>
<rect x="462" y="653" width="1" height="16" fill="#c0c0c0"/>
<rect x="470" y="653" width="1" height="16" fill="#c0c0c0"/>
<rect x="478" y="653" width="1" height="14" fill="#c0c0c0"/>
<rect x="486" y="653" width="1" height="13" fill="#c0c0c0"/>
<rect x="494" y="653" width="1" height="12" fill="#c0c0c0"/>
<rect x="502" y="653" width="1" height="10" fill="#c0c0c0"/>
<rect x="510" y="653" width="1" height="8" fill="#c0c0c0"/>
<rect x="518" y="653" width="1" height="6" fill="#c0c0c0"/>
<rect x="526" y="653" width="1" height="2" fill="#c0c0c0"/>
<rect x="534" y="652" width="1" height="2" fill="#c0c0c0"/>
<rect x="542" y="651" width="1" height="3" fill="#c0c0c0"/>
<rect x="550" y="653" width="1" height="6" fill="#c0c0c0"/>
<rect x="558" y="653" width="1" height="20" fill="#c0c0c0"/>
<rect x="566" y="653" width="1" height="27" fill="#c0c0c0"/>
<rect x="574" y="653" width="1" height="32" fill="#c0c0c0"/>
<rect x="582" y="653" width="1" height="41" fill="#c0c0c0"/>
<rect x="590" y="653" width="1" height="49" fill="#c0c0c0"/>
<rect x="598" y="653" width="1" height="67" fill="#c0c0c0"/>
<rect x="606" y="653" width="1" height="80" fill="#c0c0c0"/>
<rect x="614" y="653" width="1" height="90" fill="#c0c0c0"/>
<rect x="622" y="653" width="1" height="96" fill="#c0c0c0"/>
<rect x="630" y="653" width="1" height="99" fill="#c0c0c0"/>
<rect x="638" y="653" width="1" height="104" fill="#c0c0c0"/>
<rect x="646" y="653" width="1" height="106" fill="#c0c0c0"/>
<rect x="654" y="653" width="1" height="100" fill="#c0c0c0"/>
<rect x="662" y="653" width="1" height="96" fill="#c0c0c0"/>
<rect x="670" y="653" width="1" height="90" fill="#c0c0c0"/>
<rect x="678" y="653" width="1" height="86" fill="#c0c0c0"/>
<rect x="686" y="653" width="1" height="82" fill="#c0c0c0"/>
<rect x="694" y="653" width="1" height="69" fill="#c0c0c0"/>
<rect x="702" y="653" width="1" height="52" fill="#c0c0c0"/>
<rect x="710" y="653" width="1" height="40" fill="#c0c0c0"/>
<rect x="718" y="653" width="1" height="33" fill="#c0c0c0"/>
<rect x="726" y="653" width="1" height="27" fill="#c0c0c0"/>
<rect x="734" y="653" width="1" height="22" fill="#c0c0c0"/>
<rect x="742" y="653" width="1" height="16" fill="#c0c0c0"/>
<rect x="750" y="653" width="1" height="8" fill="#c0c0c0"/>
<rect x="758" y="653" width="1" height="6" fill="#c0c0c0"/>
<rect x="766" y="653" width="1" height="5" fill="#c0c0c0"/>
<rect x="790" y="653" width="1" height="6" fill="#c0c0c0"/>
<rect x="798" y="653" width="1" height="15" fill="#c0c0c0"/>
<rect x="806" y="653" width="1" height="23" fill="#c0c0c0"/>
<rect x="814" y="653" width="1" height="28" fill="#c0c0c0"/>
<rect x="822" y="653" width="1" height="29" fill="#c0c0c0"/>
<rect x="830" y="653" width="1" height="30" fill="#c0c0c0"/>
<rect x="838" y="653" width="1" height="25" fill="#c0c0c0"/>
<rect x="846" y="653" width="1" height="21" fill="#c0c0c0"/>
<rect x="854" y="653" width="1" height="20" fill="#c0c0c0"/>
<rect x="862" y="653" width="1" height="24" fill="#c0c0c0"/>
<rect x="870" y="653" width="1" height="22" fill="#c0c0c0"/>
<rect x="878" y="653" width="1" height="22" fill="#c0c0c0"/>
<rect x="886" y="653" width="1" height="21" fill="#c0c0c0"/>
<rect x="894" y="653" width="1" height="10" fill="#c0c0c0"/>
<rect x="902" y="653" width="1" height="4" fill="#c0c0c0"/>
<rect x="910" y="649" width="1" height="5" fill="#c0c0c0"/>
<rect x="918" y="642" width="1" height="12" fill="#c0c0c0"/>
<rect x="926" y="635" width="1" height="19" fill="#c0c0c0"/>
<rect x="934" y="625" width="1" height="29" fill="#c0c0c0"/>
<rect x="942" y="613" width="1" height="41" fill="#c0c0c0"/>
<rect x="950" y="608" width="1" height="46" fill="#c0c0c0"/>
<rect x="958" y="604" width="1" height="50" fill="#c0c0c0"/>
<rect x="966" y="598" width="1" height="56" fill="#c0c0c0"/>
<rect x="974" y="595" width="1" height="59" fill="#c0c0c0"/>
<rect x="982" y="596" width="1" height="58" fill="#c0c0c0"/>
<rect x="990" y="600" width="1" height="54" fill="#c0c0c0"/>
<rect x="998" y="600" width="1" height="54" fill="#c0c0c0"/>
<rect x="1006" y="603" width="1" height="51" fill="#c0c0c0"/>
<rect x="1014" y="603" width="1" height="51" fill="#c0c0c0"/>
<rect x="1022" y="605" width="1" height="49" fill="#c0c0c0"/>
<rect x="1030" y="604" width="1" height="50" fill="#c0c0c0"/>
<rect x="1038" y="606" width="1" height="48" fill="#c0c0c0"/>
<rect x="1046" y="601" width="1" height="53" fill="#c0c0c0"/>
<rect x="1054" y="599" width="1" height="55" fill="#c0c0c0"/>
<rect x="1062" y="598" width="1" height="56" fill="#c0c0c0"/>
<rect x="1070" y="599" width="1" height="55" fill="#c0c0c0"/>
<rect x="1078" y="600" width="1" height="54" fill="#c0c0c0"/>
<rect x="1086" y="602" width="1" height="52" fill="#c0c0c0"/>
<rect x="1094" y="602" width="1" height="52" fill="#c0c0c0"/>
<rect x="1102" y="604" width="1" height="50" fill="#c0c0c0"/>
<rect x="1110" y="609" width="1" height="45" fill="#c0c0c0"/>
<rect x="1118" y="612" width="1" height="42" fill="#c0c0c0"/>
<rect x="1126" y="614" width="1" height="40" fill="#c0c0c0"/>
<rect x="1134" y="613" width="1" height="41" fill="#c0c0c0"/>
<rect x="1142" y="616" width="1" height="38" fill="#c0c0c0"/>
<rect x="1150" y="617" width="1" height="37" fill="#c0c0c0"/>
<rect x="1158" y="618" width="1" height="36" fill="#c0c0c0"/>
<rect x="1166" y="620" width="1" height="34" fill="#c0c0c0"/>
<rect x="1174" y="622" width="1" height="32" fill="#c0c0c0"/>
<rect x="1182" y="622" width="1" height="32" fill="#c0c0c0"/>
<rect x="1190" y="628" width="1" height="26" fill="#c0c0c0"/>
<rect x="1198" y="637" width="1" height="17" fill="#c0c0c0"/>
<rect x="1206" y="645" width="1" height="9" fill="#c0c0c0"/>
<rect x="1214" y="649" width="1" height="5" fill="#c0c0c0"/>
<rect x="1222" y="652" width="1" height="2" fill="#c0c0c0"/>
<rect x="1230" y="652" width="1" height="2" fill="#c0c0c0"/>
<rect x="1246" y="653" width="1" height="6" fill="#c0c0c0"/>
<rect x="1254" y="653" width="1" height="6" fill="#c0c0c0"/>
<rect x="1262" y="653" width="1" height="7" fill="#c0c0c0"/>
<rect x="1270" y="653" width="1" height="6" fill="#c0c0c0"/>
<rect x="1278" y="653" width="1" height="7" fill="#c0c0c0"/>
<rect x="1286" y="653" width="1" height="8" fill="#c0c0c0"/>
<rect x="1294" y="653" width="1" height="7" fill="#c0c0c0"/>
<rect x="1302" y="653" width="1" height="9" fill="#c0c0c0"/>
<rect x="1310" y="653" width="1" height="10" fill="#c0c0c0"/>
<rect x="1318" y="653" width="1" height="12" fill="#c0c0c0"/>
</g>
<polyline points="0,606.6 6.5,610.3 17.6,617.1 30.1,624.1 41.4,630.9 53.9,636.2 65.2,640.4 77.8,644.2 95.3,648 110.4,649.7 125.4,650.5 143,651.2 160.6,650.5 180.6,649.7 200.7,649.2 215.8,651.2 230.8,655 243.4,658 255.9,663 271,666.8 283.5,669.3 301,669.5 336.2,669.5 346.2,671.8 361.3,673.8 376.3,673.8 391.4,671.8 403.9,670.6 420,667.5 430,665.5 445,664.3 462.6,665.5 470.2,666.3 490.2,665.5 510.3,665 520.4,664.3 530.4,661.8 540.4,660 550.5,658.5 564.3,660 575.5,663.8 583.1,667.3 593.1,674.8 605.7,686.9 620.7,704.4 635.8,722 647,734.5 657.1,742.1 665.9,747.1 675.9,749.1 685.9,748.3 696,744.6 708.5,734.5 721.1,721.5 736.1,706.2 751.2,690.6 766.2,675.6 781.3,665.5 791.3,663 801.3,661.3 808.9,661.3 816.4,663.8 828.9,667.3 842.5,671.3 855,674.3 867.6,677.3 880.1,677.3 890.2,675.6 902.7,671.3 915.3,665.5 926.6,659.3 940.4,649.7 950.4,639.7 962.9,628.7 975.5,616.6 988,608.6 1000.6,602.3 1013.1,600.6 1023.1,599.3 1033.2,599.3 1040.7,600.8 1055.8,601.6 1085.9,601.6 1093.4,600.3 1103.4,600.3 1111,601.8 1121,602.3 1131,605.3 1143.6,607.8 1156.1,610.3 1168.7,613.6 1181.2,616.1 1191.2,618.6 1201.3,622.1 1213.8,627.9 1226.3,634.2 1238.9,640.4 1251.4,646.7 1256.5,649.2 1262.8,651.2 1269,654.2 1276.6,655.5 1286.6,657.3 1294.1,658.3 1301.7,659.3 1310.4,660.5 1318,661.3" fill="none" stroke="#ff0000" stroke-width="1" stroke-dasharray="2.5 2.5" shape-rendering="crispEdges"/>
</g>
<text x="2" y="597" font-size="9.5" fill="#000" text-anchor="start" font-weight="normal" textLength="123.5" lengthAdjust="spacingAndGlyphs" stroke="#000" stroke-width="0.1">MACD(12,26,9) -24.03 -16.92</text>
<g shape-rendering="crispEdges">
<rect x="1627" y="586" width="2" height="1" fill="#000"/><rect x="1627" y="653" width="2" height="1" fill="#000"/><rect x="1627" y="765" width="2" height="1" fill="#000"/>
</g>
<text x="1630.8" y="595.4" font-size="9.5" fill="#000" text-anchor="start" font-weight="normal" textLength="27.5" lengthAdjust="spacingAndGlyphs" stroke="#000" stroke-width="0.1">155.63</text>
<text x="1630.8" y="656.9" font-size="9.5" fill="#000" text-anchor="start" font-weight="normal" textLength="17.5" lengthAdjust="spacingAndGlyphs" stroke="#000" stroke-width="0.1">0.00</text>
<text x="1630.8" y="764.3" font-size="9.5" fill="#000" text-anchor="start" font-weight="normal" textLength="30.5" lengthAdjust="spacingAndGlyphs" stroke="#000" stroke-width="0.1">-259.63</text>
<g clip-path="url(#crsi)">
<g shape-rendering="crispEdges">
<line x1="0" y1="802.5" x2="1626" y2="802.5" stroke="#c0c0c0" stroke-width="1" stroke-dasharray="3 3"/>
<line x1="0" y1="849.5" x2="1626" y2="849.5" stroke="#c0c0c0" stroke-width="1" stroke-dasharray="3 3"/>
<line x1="0" y1="905.5" x2="1626" y2="905.5" stroke="#c0c0c0" stroke-width="1" stroke-dasharray="3 3"/>
</g>
<polyline points="0,847.3 6.5,855.3 14.5,850.8 22.5,847.3 30.5,851.3 38.5,853.3 46.5,853.3 54.5,854.5 62.5,844.3 70.5,846.3 78.5,851.5 86.5,850.3 94.5,852.3 102.5,856.1 110.5,838 118.5,842.3 126.5,852.3 134.5,848.3 142.5,847.3 150.5,828.2 158.5,852.3 166.5,849.5 174.5,849.3 182.5,845.3 190.5,845.3 198.5,844.3 206.5,871.4 214.5,873.4 222.5,857.3 230.5,859.3 238.5,868.3 246.5,871.4 254.5,860.3 262.5,861.3 270.5,846.3 278.5,849.3 286.5,851.3 294.5,847.3 302.5,862.3 310.5,870.4 318.5,861.3 326.5,861.3 334.5,869.3 342.5,869.3 350.5,851.8 358.5,850.3 366.5,849 374.5,851.3 382.5,847.3 390.5,842.5 398.5,862.3 406.5,856.3 414.5,857.3 422.5,859.3 430.5,852.3 438.5,847.8 446.5,852.3 454.5,863.3 462.5,862.3 470.5,855.3 478.5,850.3 486.5,852.3 494.5,855.3 502.5,846.3 510.5,851.3 518.5,844.8 526.5,839.2 534.5,840.2 542.5,844.8 550.5,870.4 558.5,880.4 566.5,873.4 574.5,873.4 582.5,881.4 590.5,883.4 598.5,896.4 606.5,896.4 614.5,896.4 622.5,894.4 630.5,891.4 638.5,895.4 646.5,893.4 654.5,873.4 662.5,874.4 670.5,872.4 678.5,873.4 686.5,875.4 694.5,850.3 702.5,839.2 710.5,840.7 718.5,847.3 726.5,848.5 734.5,849.3 742.5,844.8 750.5,837.2 758.5,848.3 766.5,848.5 774.5,842.3 782.5,851.3 790.5,862.3 798.5,868.3 806.5,870.4 814.5,869.3 822.5,862.3 830.5,863.3 838.5,848.3 846.5,853.3 854.5,852.3 862.5,865.3 870.5,854.3 878.5,857.3 886.5,855.3 894.5,835.2 902.5,841.2 910.5,836.2 918.5,834.2 926.5,833.2 934.5,825.2 942.5,819.2 950.5,828.2 958.5,828.2 966.5,823.2 974.5,826.7 982.5,835.2 990.5,837.2 998.5,832.2 1006.5,838.2 1014.5,834.2 1022.5,835.2 1030.5,831.2 1038.5,834.7 1046.5,823.2 1054.5,825.2 1062.5,826.7 1070.5,832.2 1078.5,831.2 1086.5,830.2 1094.5,827.2 1102.5,831.2 1110.5,839.2 1118.5,837.2 1126.5,835.2 1134.5,829.2 1142.5,836.2 1150.5,833.2 1158.5,834.5 1166.5,837.2 1174.5,837.2 1182.5,832.2 1190.5,852.3 1198.5,864.3 1206.5,861.8 1214.5,858.3 1222.5,855.3 1230.5,854.3 1238.5,857.3 1246.5,861.3 1254.5,856.3 1262.5,857.3 1270.5,848.3 1278.5,857.3 1286.5,855.3 1294.5,851.3 1302.5,860.3 1310.5,859.3 1318.5,860.3" fill="none" stroke="#1e90ff" stroke-width="1" shape-rendering="crispEdges"/>
</g>
<text x="2" y="782.3" font-size="9.5" fill="#000" text-anchor="start" font-weight="normal" textLength="68" lengthAdjust="spacingAndGlyphs" stroke="#000" stroke-width="0.1">RSI(14) 43.4559</text>
<g shape-rendering="crispEdges">
<rect x="1627" y="771" width="2" height="1" fill="#000"/><rect x="1627" y="927" width="2" height="1" fill="#000"/>
</g>
<text x="1630.8" y="779.6" font-size="9.5" fill="#000" text-anchor="start" font-weight="normal" textLength="15" lengthAdjust="spacingAndGlyphs" stroke="#000" stroke-width="0.1">100</text>
<text x="1629.2" y="806" font-size="9.5" fill="#000" text-anchor="start" font-weight="normal" textLength="10" lengthAdjust="spacingAndGlyphs" stroke="#000" stroke-width="0.1">80</text>
<text x="1629.2" y="853.1" font-size="9.5" fill="#000" text-anchor="start" font-weight="normal" textLength="10" lengthAdjust="spacingAndGlyphs" stroke="#000" stroke-width="0.1">50</text>
<text x="1629.2" y="909.2" font-size="9.5" fill="#000" text-anchor="start" font-weight="normal" textLength="10" lengthAdjust="spacingAndGlyphs" stroke="#000" stroke-width="0.1">15</text>
<text x="1630.8" y="925.7" font-size="9.5" fill="#000" text-anchor="start" font-weight="normal" textLength="5" lengthAdjust="spacingAndGlyphs" stroke="#000" stroke-width="0.1">0</text>
<g shape-rendering="crispEdges">
<rect x="-2" y="929" width="1" height="4" fill="#000"/>
<rect x="62" y="929" width="1" height="4" fill="#000"/>
<rect x="126" y="929" width="1" height="4" fill="#000"/>
<rect x="190" y="929" width="1" height="4" fill="#000"/>
<rect x="254" y="929" width="1" height="4" fill="#000"/>
<rect x="318" y="929" width="1" height="4" fill="#000"/>
<rect x="382" y="929" width="1" height="4" fill="#000"/>
<rect x="446" y="929" width="1" height="4" fill="#000"/>
<rect x="510" y="929" width="1" height="4" fill="#000"/>
<rect x="574" y="929" width="1" height="4" fill="#000"/>
<rect x="638" y="929" width="1" height="4" fill="#000"/>
<rect x="702" y="929" width="1" height="4" fill="#000"/>
<rect x="766" y="929" width="1" height="4" fill="#000"/>
<rect x="830" y="929" width="1" height="4" fill="#000"/>
<rect x="894" y="929" width="1" height="4" fill="#000"/>
<rect x="958" y="929" width="1" height="4" fill="#000"/>
<rect x="1022" y="929" width="1" height="4" fill="#000"/>
<rect x="1086" y="929" width="1" height="4" fill="#000"/>
<rect x="1150" y="929" width="1" height="4" fill="#000"/>
<rect x="1214" y="929" width="1" height="4" fill="#000"/>
<rect x="1278" y="929" width="1" height="4" fill="#000"/>
</g>
<text x="-2.6" y="941.8" font-size="9.5" fill="#000" text-anchor="start" font-weight="normal" textLength="52.3" lengthAdjust="spacingAndGlyphs" stroke="#000" stroke-width="0.1">16 Sep 2019</text>
<text x="61.4" y="941.8" font-size="9.5" fill="#000" text-anchor="start" font-weight="normal" textLength="54.9" lengthAdjust="spacingAndGlyphs" stroke="#000" stroke-width="0.1">17 Sep 16:00</text>
<text x="125.4" y="941.8" font-size="9.5" fill="#000" text-anchor="start" font-weight="normal" textLength="54.9" lengthAdjust="spacingAndGlyphs" stroke="#000" stroke-width="0.1">19 Sep 00:00</text>
<text x="189.4" y="941.8" font-size="9.5" fill="#000" text-anchor="start" font-weight="normal" textLength="54.9" lengthAdjust="spacingAndGlyphs" stroke="#000" stroke-width="0.1">20 Sep 08:00</text>
<text x="253.4" y="941.8" font-size="9.5" fill="#000" text-anchor="start" font-weight="normal" textLength="54.9" lengthAdjust="spacingAndGlyphs" stroke="#000" stroke-width="0.1">23 Sep 12:00</text>
<text x="317.4" y="941.8" font-size="9.5" fill="#000" text-anchor="start" font-weight="normal" textLength="54.9" lengthAdjust="spacingAndGlyphs" stroke="#000" stroke-width="0.1">24 Sep 20:00</text>
<text x="381.4" y="941.8" font-size="9.5" fill="#000" text-anchor="start" font-weight="normal" textLength="54.9" lengthAdjust="spacingAndGlyphs" stroke="#000" stroke-width="0.1">26 Sep 04:00</text>
<text x="445.4" y="941.8" font-size="9.5" fill="#000" text-anchor="start" font-weight="normal" textLength="54.9" lengthAdjust="spacingAndGlyphs" stroke="#000" stroke-width="0.1">27 Sep 12:00</text>
<text x="509.4" y="941.8" font-size="9.5" fill="#000" text-anchor="start" font-weight="normal" textLength="54.9" lengthAdjust="spacingAndGlyphs" stroke="#000" stroke-width="0.1">30 Sep 16:00</text>
<text x="573.4" y="941.8" font-size="9.5" fill="#000" text-anchor="start" font-weight="normal" textLength="47.7" lengthAdjust="spacingAndGlyphs" stroke="#000" stroke-width="0.1">2 Oct 00:00</text>
<text x="637.4" y="941.8" font-size="9.5" fill="#000" text-anchor="start" font-weight="normal" textLength="47.7" lengthAdjust="spacingAndGlyphs" stroke="#000" stroke-width="0.1">3 Oct 08:00</text>
<text x="701.4" y="941.8" font-size="9.5" fill="#000" text-anchor="start" font-weight="normal" textLength="47.7" lengthAdjust="spacingAndGlyphs" stroke="#000" stroke-width="0.1">4 Oct 16:00</text>
<text x="765.4" y="941.8" font-size="9.5" fill="#000" text-anchor="start" font-weight="normal" textLength="47.7" lengthAdjust="spacingAndGlyphs" stroke="#000" stroke-width="0.1">7 Oct 20:00</text>
<text x="829.4" y="941.8" font-size="9.5" fill="#000" text-anchor="start" font-weight="normal" textLength="47.7" lengthAdjust="spacingAndGlyphs" stroke="#000" stroke-width="0.1">9 Oct 04:00</text>
<text x="893.4" y="941.8" font-size="9.5" fill="#000" text-anchor="start" font-weight="normal" textLength="52.8" lengthAdjust="spacingAndGlyphs" stroke="#000" stroke-width="0.1">10 Oct 12:00</text>
<text x="957.4" y="941.8" font-size="9.5" fill="#000" text-anchor="start" font-weight="normal" textLength="52.1" lengthAdjust="spacingAndGlyphs" stroke="#000" stroke-width="0.1">11 Oct 20:00</text>
<text x="1021.4" y="941.8" font-size="9.5" fill="#000" text-anchor="start" font-weight="normal" textLength="52.8" lengthAdjust="spacingAndGlyphs" stroke="#000" stroke-width="0.1">15 Oct 00:00</text>
<text x="1085.4" y="941.8" font-size="9.5" fill="#000" text-anchor="start" font-weight="normal" textLength="52.8" lengthAdjust="spacingAndGlyphs" stroke="#000" stroke-width="0.1">16 Oct 08:00</text>
<text x="1149.4" y="941.8" font-size="9.5" fill="#000" text-anchor="start" font-weight="normal" textLength="52.8" lengthAdjust="spacingAndGlyphs" stroke="#000" stroke-width="0.1">17 Oct 16:00</text>
<text x="1213.4" y="941.8" font-size="9.5" fill="#000" text-anchor="start" font-weight="normal" textLength="52.8" lengthAdjust="spacingAndGlyphs" stroke="#000" stroke-width="0.1">20 Oct 23:00</text>
<text x="1277.4" y="941.8" font-size="9.5" fill="#000" text-anchor="start" font-weight="normal" textLength="52.8" lengthAdjust="spacingAndGlyphs" stroke="#000" stroke-width="0.1">22 Oct 04:00</text>
<g shape-rendering="crispEdges">
<rect x="0" y="0" width="1674" height="24" fill="#f0f0f0"/>
<rect x="0" y="24" width="1674" height="1" fill="#f5f5f5"/>
<rect x="0" y="25" width="1674" height="1" fill="#a0a0a0"/>
<rect x="0" y="26" width="1674" height="1" fill="#696969"/>
<rect x="0" y="27" width="1674" height="2" fill="#ffffff"/>
<rect x="318" y="2" width="1" height="21" fill="#a0a0a0"/><rect x="319" y="2" width="1" height="21" fill="#ffffff"/>
<rect x="408" y="2" width="1" height="21" fill="#a0a0a0"/><rect x="409" y="2" width="1" height="21" fill="#ffffff"/>
<rect x="470" y="2" width="1" height="21" fill="#a0a0a0"/><rect x="471" y="2" width="1" height="21" fill="#ffffff"/>
<rect x="658" y="2" width="1" height="21" fill="#a0a0a0"/><rect x="659" y="2" width="1" height="21" fill="#ffffff"/>
<rect x="223" y="0" width="1" height="25" fill="#a0a0a0"/><rect x="224" y="0" width="1" height="25" fill="#ffffff"/>
<rect x="591" y="0" width="1" height="25" fill="#a0a0a0"/><rect x="592" y="0" width="1" height="25" fill="#ffffff"/>
<rect x="897" y="0" width="1" height="25" fill="#a0a0a0"/><rect x="898" y="0" width="1" height="25" fill="#ffffff"/>
<rect x="1158" y="0" width="1" height="25" fill="#a0a0a0"/><rect x="1159" y="0" width="1" height="25" fill="#ffffff"/>
<rect x="227" y="3" width="3" height="1" fill="#b4b4b4"/><rect x="227" y="5" width="3" height="1" fill="#b4b4b4"/><rect x="227" y="7" width="3" height="1" fill="#b4b4b4"/><rect x="227" y="9" width="3" height="1" fill="#b4b4b4"/><rect x="227" y="11" width="3" height="1" fill="#b4b4b4"/><rect x="227" y="13" width="3" height="1" fill="#b4b4b4"/><rect x="227" y="15" width="3" height="1" fill="#b4b4b4"/><rect x="227" y="17" width="3" height="1" fill="#b4b4b4"/><rect x="227" y="19" width="3" height="1" fill="#b4b4b4"/><rect x="227" y="21" width="3" height="1" fill="#b4b4b4"/>
<rect x="595" y="3" width="3" height="1" fill="#b4b4b4"/><rect x="595" y="5" width="3" height="1" fill="#b4b4b4"/><rect x="595" y="7" width="3" height="1" fill="#b4b4b4"/><rect x="595" y="9" width="3" height="1" fill="#b4b4b4"/><rect x="595" y="11" width="3" height="1" fill="#b4b4b4"/><rect x="595" y="13" width="3" height="1" fill="#b4b4b4"/><rect x="595" y="15" width="3" height="1" fill="#b4b4b4"/><rect x="595" y="17" width="3" height="1" fill="#b4b4b4"/><rect x="595" y="19" width="3" height="1" fill="#b4b4b4"/><rect x="595" y="21" width="3" height="1" fill="#b4b4b4"/>
<rect x="901" y="3" width="3" height="1" fill="#b4b4b4"/><rect x="901" y="5" width="3" height="1" fill="#b4b4b4"/><rect x="901" y="7" width="3" height="1" fill="#b4b4b4"/><rect x="901" y="9" width="3" height="1" fill="#b4b4b4"/><rect x="901" y="11" width="3" height="1" fill="#b4b4b4"/><rect x="901" y="13" width="3" height="1" fill="#b4b4b4"/><rect x="901" y="15" width="3" height="1" fill="#b4b4b4"/><rect x="901" y="17" width="3" height="1" fill="#b4b4b4"/><rect x="901" y="19" width="3" height="1" fill="#b4b4b4"/><rect x="901" y="21" width="3" height="1" fill="#b4b4b4"/>
<rect x="261" y="1" width="25" height="22" fill="#f9f9f9"/><rect x="261" y="1" width="25" height="1" fill="#a0a0a0"/><rect x="261" y="1" width="1" height="22" fill="#a0a0a0"/><rect x="285" y="2" width="1" height="21" fill="#ffffff"/><rect x="262" y="22" width="24" height="1" fill="#ffffff"/>
<rect x="413" y="1" width="25" height="22" fill="#f9f9f9"/><rect x="413" y="1" width="25" height="1" fill="#a0a0a0"/><rect x="413" y="1" width="1" height="22" fill="#a0a0a0"/><rect x="437" y="2" width="1" height="21" fill="#ffffff"/><rect x="414" y="22" width="24" height="1" fill="#ffffff"/>
<rect x="441" y="1" width="25" height="22" fill="#f9f9f9"/><rect x="441" y="1" width="25" height="1" fill="#a0a0a0"/><rect x="441" y="1" width="1" height="22" fill="#a0a0a0"/><rect x="465" y="2" width="1" height="21" fill="#ffffff"/><rect x="442" y="22" width="24" height="1" fill="#ffffff"/>
<rect x="601" y="1" width="25" height="22" fill="#f9f9f9"/><rect x="601" y="1" width="25" height="1" fill="#a0a0a0"/><rect x="601" y="1" width="1" height="22" fill="#a0a0a0"/><rect x="625" y="2" width="1" height="21" fill="#ffffff"/><rect x="602" y="22" width="24" height="1" fill="#ffffff"/>
<rect x="1047" y="1" width="25" height="22" fill="#f9f9f9"/><rect x="1047" y="1" width="25" height="1" fill="#a0a0a0"/><rect x="1047" y="1" width="1" height="22" fill="#a0a0a0"/><rect x="1071" y="2" width="1" height="21" fill="#ffffff"/><rect x="1048" y="22" width="24" height="1" fill="#ffffff"/>
</g>
<defs><linearGradient id="gp" x1="0" y1="0" x2="1" y2="1"><stop offset="0" stop-color="#8dffa6"/><stop offset="0.55" stop-color="#10e838"/><stop offset="1" stop-color="#00c824"/></linearGradient><linearGradient id="gbook" x1="0" y1="0" x2="1" y2="1"><stop offset="0" stop-color="#e0a810"/><stop offset="0.5" stop-color="#f8e468"/><stop offset="1" stop-color="#dca414"/></linearGradient><linearGradient id="gcloud" x1="0" y1="0" x2="0" y2="1"><stop offset="0" stop-color="#ffffff"/><stop offset="1" stop-color="#c4cee4"/></linearGradient><linearGradient id="gsig" x1="0" y1="0" x2="1" y2="1"><stop offset="0" stop-color="#eef4ee"/><stop offset="1" stop-color="#3a9c3a"/></linearGradient><linearGradient id="gface" x1="0" y1="0" x2="1" y2="1"><stop offset="0" stop-color="#fbe878"/><stop offset="1" stop-color="#e4ac18"/></linearGradient></defs>
<path d="M-2 5.6 H6 L8.8 8.4 V17.6 H-2 Z" fill="#fdfdfd" stroke="#7c7c7c" stroke-width="0.9"/>
<path d="M5.8 5.8 V8.6 H8.6" fill="none" stroke="#7c7c7c" stroke-width="0.8"/>
<path d="M-1 7.8 H2 M-1 11.9 H4 M-1 13.6 H3.6" stroke="#8a8a8a" stroke-width="0.9"/>
<path d="M5.2 11.6 h3.7 v3.6 h3.9 v3.7 h-3.9 v3.9 h-3.7 v-3.9 h-3.9 v-3.7 h3.9 Z" fill="url(#gp)" stroke="#0a8a12" stroke-width="1" stroke-linejoin="miter"/>
<text x="16" y="15.7" font-size="11.8" fill="#000" stroke="#000" stroke-width="0.2" text-anchor="start" textLength="35.4" lengthAdjust="spacingAndGlyphs" style="font-family:'Liberation Sans','Noto Sans CJK SC',sans-serif">新订单</text>
<path d="M69.7 6.2 L78.7 12 L79.7 14.8 L72 20.6 L64.2 14.9 C66.5 13 68.2 10.5 69.7 6.2 Z" fill="#d9a010" stroke="#9a6808" stroke-width="0.9" stroke-linejoin="round"/>
<path d="M72.1 18.6 L78.7 13 L79.2 14.6 L72.3 19.9 Z" fill="#ece2ac"/>
<path d="M70 7.5 L78 12.2 L71.8 17.6 L65.6 14.5 C67.5 12.7 68.9 10.5 70 7.5 Z" fill="url(#gbook)"/>
<path d="M94 6 L97.2 5.1 L104.8 5.5 V14 H94 Z" fill="#0b8ff8"/>
<path d="M97.9 7 H104.6 V14 H97.9 Z" fill="#2ca6ff"/>
<path d="M94.3 6.2 L97.7 7.2 V13.6" fill="none" stroke="#e6f5ff" stroke-width="0.7"/>
<path d="M99.2 9.8 L103.4 8.9" stroke="#e6f5ff" stroke-width="1.1"/>
<path d="M95.4 20.3 C91.6 20.3 91.4 16 94.5 15.4 C94.6 13.2 97.8 12.4 99.4 14.2 C100.8 12.2 104.5 12.8 104.7 15.1 C108.4 14.6 109 20.3 105.2 20.3 Z" fill="url(#gcloud)" stroke="#4a66a6" stroke-width="0.9"/>
<circle cx="128.05" cy="13" r="7.7" fill="#f8faf8"/>
<path d="M128.05 13 L128.05 5.3 A7.7 7.7 0 0 1 129.2 20.6 Z" fill="url(#gsig)" opacity="0.8"/>
<g fill="none">
<path d="M128.6 20.6 A7.6 7.6 0 1 1 133.5 7.6" stroke="#3f6fd8" stroke-width="1" opacity="0.65" stroke-dasharray="2.2 1"/>
<path d="M127 17.6 A4.7 4.7 0 1 1 131.6 9.9" stroke="#3565d4" stroke-width="1.1" opacity="0.8" stroke-dasharray="2.4 0.9"/>
<path d="M133.5 7.6 A7.6 7.6 0 0 1 132 19.6" stroke="#2f8a5a" stroke-width="1" opacity="0.7"/>
<path d="M131.6 9.9 A4.7 4.7 0 0 1 130.8 17" stroke="#3c9a5c" stroke-width="1" opacity="0.7"/>
</g>
<circle cx="128" cy="12.8" r="2.1" fill="#2858d2"/>
<path d="M127.85 13 H129.3 V20.7 H127.85 Z" fill="#1fa01f"/>
<path d="M147.1 12.2 L162.5 11.7 L156.4 20.7 H153.8 Z" fill="url(#gface)" stroke="#c8960c" stroke-width="0.7" stroke-linejoin="round"/>
<ellipse cx="155" cy="10.2" rx="8" ry="2.5" fill="#56ace6" stroke="#2a86c0" stroke-width="0.8"/>
<path d="M150.8 9.8 C150.6 3.4 158.7 3.4 158.6 9.8 C156.5 10.8 153 10.8 150.8 9.8 Z" fill="#6fbdee" stroke="#2a86c0" stroke-width="0.7"/>
<circle cx="159.5" cy="16.7" r="4.1" fill="#e32408" stroke="#b81400" stroke-width="0.6"/>
<rect x="158.1" y="15.2" width="3" height="3" fill="#fff"/>
<text x="168.3" y="16.2" font-size="11.8" fill="#000" stroke="#000" stroke-width="0.3" text-anchor="start" textLength="47.1" lengthAdjust="spacingAndGlyphs" style="font-family:'Liberation Sans','Noto Sans CJK SC',sans-serif">自动交易</text>
<g stroke="#555" stroke-width="1.1" fill="none"><path d="M241.5 7.6 V20.8 M238.9 18.6 H251.7"/></g><path d="M239.7 9 L241.5 6.6 L243.3 9 Z M251.1 16.8 L253.4 18.6 L251.1 20.4 Z" fill="#555"/>
<path d="M247.6 8.2 V16.8 M247.6 9.2 H250.2 M245 15.6 H247.6" stroke="#22a022" stroke-width="1.4" fill="none"/>
<g stroke="#555" stroke-width="1.1" fill="none"><path d="M269.4 7.6 V20.8 M266.8 18.6 H279.6"/></g><path d="M267.6 9 L269.4 6.6 L271.2 9 Z M279 16.8 L281.3 18.6 L279 20.4 Z" fill="#555"/>
<path d="M275.4 5 V16.8" stroke="#109010" stroke-width="1.2"/>
<rect x="273.3" y="7.6" width="4.3" height="7" fill="#4fe04f" stroke="#109010" stroke-width="0.9"/>
<g stroke="#555" stroke-width="1.1" fill="none"><path d="M297.4 7.6 V20.8 M294.8 18.6 H307.6"/></g><path d="M295.6 9 L297.4 6.6 L299.2 9 Z M307 16.8 L309.3 18.6 L307 20.4 Z" fill="#555"/>
<path d="M296 15.8 C299 13.5 300.5 10.2 302.3 10.4 C304 10.6 305.5 13.2 307.8 14" stroke="#2a9a2a" stroke-width="1.2" fill="none"/>
<path d="M336.9 15 L342.2 20" stroke="#9a7608" stroke-width="3.6" stroke-linecap="round"/><path d="M337 15 L342 19.8" stroke="#ecc936" stroke-width="2.2" stroke-linecap="round"/><circle cx="333" cy="10.8" r="5.6" fill="#d6e8fa" stroke="#3a7ad8" stroke-width="1.3"/><path d="M329.8 10.8 H336.2" stroke="#3d78b4" stroke-width="1.8"/><path d="M333 7.6 V14" stroke="#3d78b4" stroke-width="1.8"/>
<path d="M365 15 L370.3 20" stroke="#9a7608" stroke-width="3.6" stroke-linecap="round"/><path d="M365.1 15 L370.1 19.8" stroke="#ecc936" stroke-width="2.2" stroke-linecap="round"/><circle cx="361.1" cy="10.8" r="5.6" fill="#d6e8fa" stroke="#3a7ad8" stroke-width="1.3"/><path d="M357.9 10.8 H364.3" stroke="#3d78b4" stroke-width="1.8"/>
<rect x="383" y="5" width="8" height="8" rx="0.8" fill="#4aa82a"/><rect x="383" y="5" width="8" height="2.6" rx="0.8" fill="#2f8c14"/><rect x="384.2" y="6" width="1" height="1" fill="#fff" opacity="0.9"/><rect x="384.3" y="8.5" width="5.7" height="3.9" fill="#fff"/><rect x="385.6" y="11.6" width="3.1" height="0.9" fill="#4aa82a"/><rect x="385.2" y="9.4" width="3.9" height="0.9" fill="#4aa82a" opacity="0.4"/><rect x="391.1" y="5" width="8" height="8" rx="0.8" fill="#2f62dc"/><rect x="391.1" y="5" width="8" height="2.6" rx="0.8" fill="#1c44b8"/><rect x="392.3" y="6" width="1" height="1" fill="#fff" opacity="0.9"/><rect x="392.4" y="8.5" width="5.7" height="3.9" fill="#fff"/><rect x="393.7" y="11.6" width="3.1" height="0.9" fill="#2f62dc"/><rect x="393.3" y="9.4" width="3.9" height="0.9" fill="#2f62dc" opacity="0.4"/><rect x="383" y="13" width="8" height="8" rx="0.8" fill="#2f62dc"/><rect x="383" y="13" width="8" height="2.6" rx="0.8" fill="#1c44b8"/><rect x="384.2" y="14" width="1" height="1" fill="#fff" opacity="0.9"/><rect x="384.3" y="16.5" width="5.7" height="3.9" fill="#fff"/><rect x="385.6" y="19.6" width="3.1" height="0.9" fill="#2f62dc"/><rect x="385.2" y="17.4" width="3.9" height="0.9" fill="#2f62dc" opacity="0.4"/><rect x="391.1" y="13" width="8" height="8" rx="0.8" fill="#4aa82a"/><rect x="391.1" y="13" width="8" height="2.6" rx="0.8" fill="#2f8c14"/><rect x="392.3" y="14" width="1" height="1" fill="#fff" opacity="0.9"/><rect x="392.4" y="16.5" width="5.7" height="3.9" fill="#fff"/><rect x="393.7" y="19.6" width="3.1" height="0.9" fill="#4aa82a"/><rect x="393.3" y="17.4" width="3.9" height="0.9" fill="#4aa82a" opacity="0.4"/>
<g stroke="#555" stroke-width="1.1" fill="none"><path d="M421.3 7.6 V20.8 M418.7 18.6 H431.5"/></g><path d="M419.5 9 L421.3 6.6 L423.1 9 Z M430.9 16.8 L433.2 18.6 L430.9 20.4 Z" fill="#555"/>
<path d="M426.2 9.2 L430.2 12.4 L426.2 15.8 Z" fill="#5fe35f" stroke="#139413" stroke-width="0.9"/>
<g stroke="#555" stroke-width="1.1" fill="none"><path d="M449.3 7.6 V20.8 M446.7 18.6 H459.5"/></g><path d="M447.5 9 L449.3 6.6 L451.1 9 Z M458.9 16.8 L461.2 18.6 L458.9 20.4 Z" fill="#555"/>
<path d="M455.4 6.8 V16.8" stroke="#1870a0" stroke-width="1.3"/>
<path d="M456.4 12.5 L459.4 10.2 L459 12 H461 V13 H459 L459.4 14.8 Z" fill="#d04000"/>
<defs><linearGradient id="gclk" x1="0" y1="0" x2="0.4" y2="1"><stop offset="0" stop-color="#4aa8ff"/><stop offset="0.5" stop-color="#0f6ee0"/><stop offset="1" stop-color="#0642a6"/></linearGradient><linearGradient id="gbar" x1="0" y1="0" x2="1" y2="0"><stop offset="0" stop-color="#9cc8f8"/><stop offset="1" stop-color="#2f74d8"/></linearGradient></defs>
<path d="M480.7 5.6 H488.4 L491.4 8.6 V18.3 H480.7 Z" fill="#fcfcfc" stroke="#8c8c8c" stroke-width="0.9"/>
<path d="M488.2 5.8 V8.8 H491.2" fill="none" stroke="#8c8c8c" stroke-width="0.8"/>
<path d="M483.2 8.2 V16 M483.2 9 H485 M483.2 12 H484.8 M483.2 15.6 H484.6" stroke="#55553a" stroke-width="0.9" fill="none"/>
<path d="M488.2 11.1 h4.1 v3.8 h3.8 v4.1 h-3.8 v3.8 h-4.1 v-3.8 h-3.8 v-4.1 h3.8 Z" fill="url(#gp)" stroke="#0a8a12" stroke-width="1"/>
<path d="M501.9 11.8 l5.4 0 l-2.7 3 Z" fill="#000"/>
<circle cx="526" cy="12.8" r="6.4" fill="#fdfeff" stroke="url(#gclk)" stroke-width="3.1"/>
<g stroke="#b4bcc8" stroke-width="0.7"><path d="M526 8.4 V9.2 M526 16.4 V17.2 M521.6 12.8 H522.4 M529.6 12.8 H530.4 M523 9.8 L523.5 10.3 M529 9.8 L528.5 10.3 M523 15.8 L523.5 15.3 M529 15.8 L528.5 15.3"/></g>
<path d="M525.9 9.2 V12.9 L528.6 13.6" stroke="#1a1a1a" stroke-width="1.2" fill="none" stroke-linecap="round"/>
<path d="M540.8 11.8 l5.4 0 l-2.7 3 Z" fill="#000"/>
<rect x="557.5" y="6.5" width="15.2" height="12.9" fill="#fff" stroke="#3a78d8" stroke-width="1"/>
<rect x="557.5" y="6.2" width="15.2" height="2.4" fill="url(#gbar)"/>
<path d="M558 14.1 H572.2" stroke="#9cc0f0" stroke-width="0.7"/>
<path d="M559.6 12.4 L561.6 12.2 L563.6 10.8 L565 10.6 L566.4 11.6 L568 11.6 L569.4 10.8 L570.8 10.4" stroke="#a02808" stroke-width="1.2" fill="none"/>
<path d="M559.8 17.4 L561.6 17 L563.2 16.2 L564.6 17.2 L566 16.6 L568 15 L569.4 16.4 L570.8 17.6" stroke="#1c8a1c" stroke-width="1.1" fill="none"/>
<path d="M579.7 11.8 l5.4 0 l-2.7 3 Z" fill="#000"/>
<path d="M609 6 L609 18.2 L611.8 15.6 L614 20.4 L616 19.4 L613.8 14.8 L617.6 14.6 Z" fill="#4a4a4a"/>
<path d="M641.4 6 V21 M633.8 13.4 H649" stroke="#505050" stroke-width="1.2"/>
<rect x="640.9" y="12.9" width="1" height="1" fill="#f0f0f0"/>
<path d="M675.5 7.2 V20" stroke="#505050" stroke-width="1.3"/>
<path d="M698.2 13.2 H710" stroke="#505050" stroke-width="1.3"/>
<path d="M725.8 19.7 L738.3 7.9" stroke="#505050" stroke-width="1.3"/>
<g stroke="#8c8c8c" stroke-width="0.9" fill="none"><path d="M751.7 14.6 L759.8 6.9 M757 19.7 L766.1 11.1"/></g>
<g stroke="#404040" stroke-width="1.25" fill="none" stroke-linecap="round"><path d="M752.8 18.4 L765.6 7.3"/><path d="M754.3 12.4 V19.6 M757.5 11 V16.6 M760.5 9 V16.4 M763.5 5.2 V12.2"/></g>
<text x="763" y="21.9" font-size="6.8" fill="#303030" text-anchor="start" font-weight="bold">E</text>
<g stroke="#505050" stroke-width="1" stroke-dasharray="1 1" shape-rendering="crispEdges"><path d="M781 6.5 H794 M781 9.5 H794 M781 13.5 H794 M781 17.5 H790"/></g>
<text x="790.6" y="21.9" font-size="6.6" fill="#303030" text-anchor="start" font-weight="bold">F</text>
<text x="815.7" y="18" font-size="12.6" fill="#505050" text-anchor="middle" font-weight="normal" stroke="#505050" stroke-width="0.35">A</text>
<g shape-rendering="crispEdges"><rect x="838.5" y="7.5" width="11" height="12" fill="none" stroke="#505050" stroke-width="1" stroke-dasharray="1 1"/></g>
<text x="844" y="17.8" font-size="11.2" fill="#505050" text-anchor="middle" font-weight="normal" stroke="#505050" stroke-width="0.45">T</text>
<path d="M868.5 7.2 L872 10.4 L868.5 12.2 L865.2 10.4 Z M875.8 14.8 L879.2 17.2 L875.8 20.2 L872.4 17.2 Z" fill="#4a4a4a"/>
<path d="M866.8 13.6 L869 15.8 L874 10.2" stroke="#4a4a4a" stroke-width="1.4" fill="none"/>
<path d="M885.8 12 l5.4 0 l-2.7 3 Z" fill="#000"/>
<text x="919" y="16.8" font-size="9.2" fill="#404040" text-anchor="middle" font-weight="normal">M1</text>
<text x="947" y="16.8" font-size="9.2" fill="#404040" text-anchor="middle" font-weight="normal">M5</text>
<text x="975.3" y="16.8" font-size="9.2" fill="#404040" text-anchor="middle" font-weight="normal">M15</text>
<text x="1003.2" y="16.8" font-size="9.2" fill="#404040" text-anchor="middle" font-weight="normal">M30</text>
<text x="1031.3" y="16.8" font-size="9.2" fill="#404040" text-anchor="middle" font-weight="normal">H1</text>
<text x="1058.8" y="16.8" font-size="9.2" fill="#404040" text-anchor="middle" font-weight="normal">H4</text>
<text x="1087.4" y="16.8" font-size="9.2" fill="#404040" text-anchor="middle" font-weight="normal">D1</text>
<text x="1116.1" y="16.8" font-size="9.2" fill="#404040" text-anchor="middle" font-weight="normal">W1</text>
<text x="1143" y="16.8" font-size="9.2" fill="#404040" text-anchor="middle" font-weight="normal">MN</text>
<path d="M1625.4 13.8 L1621 18" stroke="#2a5fe0" stroke-width="2.6" stroke-linecap="round"/>
<circle cx="1628.7" cy="10.3" r="3.7" fill="#fafcff" stroke="#2a62e4" stroke-width="1.3"/>
<path d="M1661.5 5.4 c3.8 0 6.7 2 6.7 4.6 c0 1.9 -1.6 3.4 -3.6 4.1 l0.5 2.4 l-2.4 -2 c-0.4 0 -0.8 0.1 -1.2 0.1 c-3.8 0 -6.7 -2 -6.7 -4.6 c0 -2.6 2.9 -4.6 6.7 -4.6 Z" fill="#f4f4f6" stroke="#8e8e8e" stroke-width="0.9"/>
<path d="M1652.4 10.3 c2.8 0 5 1.7 5 3.8 c0 2.1 -2.2 3.8 -5 3.8 c-0.4 0 -0.8 0 -1.2 -0.1 l-2 1.9 l0.4 -2.5 c-1.4 -0.7 -2.2 -1.8 -2.2 -3.1 c0 -2.1 2.2 -3.8 5 -3.8 Z" fill="#ececf2" stroke="#8e8e8e" stroke-width="0.9"/>
</svg>
</body></html>
